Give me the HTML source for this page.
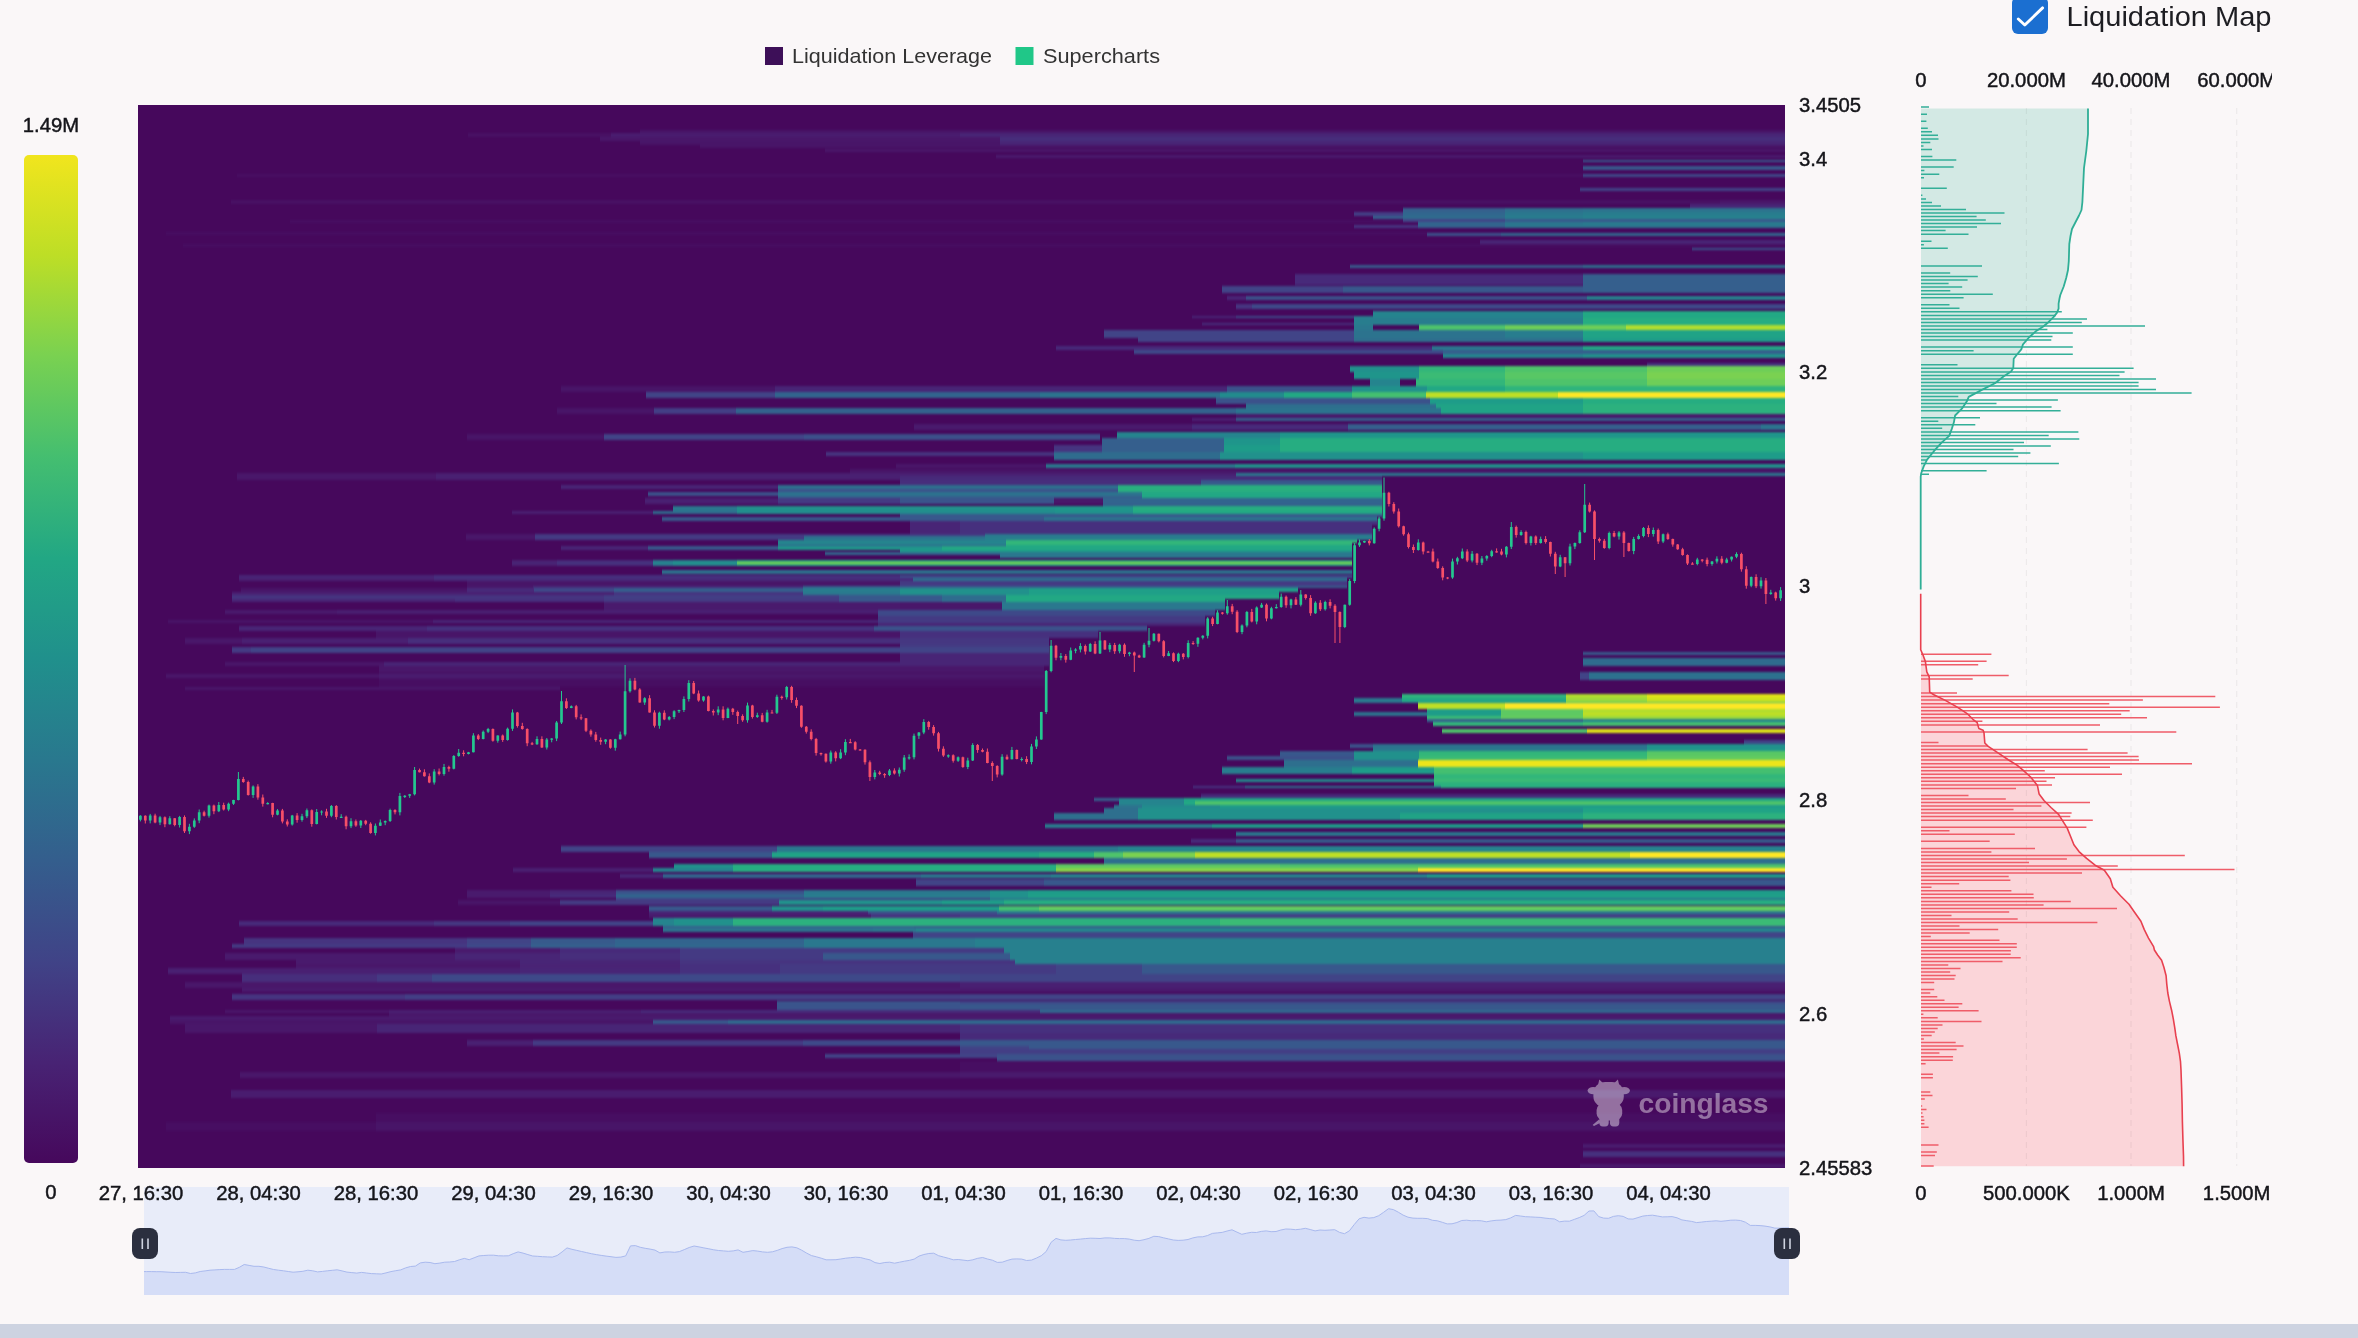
<!DOCTYPE html>
<html lang="en">
<head>
<meta charset="utf-8">
<title>Liquidation Heatmap</title>
<style>
html,body{margin:0;padding:0;background:#faf7f8;}
body{width:2358px;height:1338px;overflow:hidden;position:relative;font-family:"Liberation Sans",sans-serif;}
svg{position:absolute;left:0;top:0;display:block;opacity:0.9999;will-change:transform;}
svg text{font-family:"Liberation Sans",sans-serif;}
.ax text{font-size:20.3px;fill:#15151a;stroke:#15151a;stroke-width:0.45px;}
</style>
</head>
<body>
<svg width="2358" height="1338" viewBox="0 0 2358 1338">
<defs>
<linearGradient id="vbar" x1="0" y1="0" x2="0" y2="1"><stop offset="0.0" stop-color="#f1e51d"/><stop offset="0.1" stop-color="#bdde26"/><stop offset="0.2" stop-color="#79d151"/><stop offset="0.3" stop-color="#44be70"/><stop offset="0.4" stop-color="#22a784"/><stop offset="0.5" stop-color="#20908c"/><stop offset="0.6" stop-color="#29788e"/><stop offset="0.7" stop-color="#345e8d"/><stop offset="0.8" stop-color="#404387"/><stop offset="0.9" stop-color="#482374"/><stop offset="1.0" stop-color="#46085c"/></linearGradient>
<clipPath id="hclip"><rect x="138" y="105" width="1647" height="1063"/></clipPath>
<filter id="hblur" x="130" y="100" width="1665" height="1075" filterUnits="userSpaceOnUse" color-interpolation-filters="sRGB"><feGaussianBlur stdDeviation="0.7 1.0"/></filter>
<clipPath id="pclip"><rect x="1900" y="60" width="372" height="1160"/></clipPath>
</defs>
<rect x="0" y="0" width="2358" height="1338" fill="#faf7f8"/>
<!-- legend -->
<rect x="765" y="47" width="18" height="18" fill="#3d0f58"/>
<text x="792" y="63" font-size="21" fill="#333" textLength="200" lengthAdjust="spacingAndGlyphs">Liquidation Leverage</text>
<rect x="1015.500" y="47" width="18" height="18" fill="#20c788"/>
<text x="1043" y="63" font-size="21" fill="#333" textLength="117" lengthAdjust="spacingAndGlyphs">Supercharts</text>
<!-- colour bar -->
<rect x="24" y="155" width="54" height="1008" rx="5" ry="5" fill="url(#vbar)"/>
<g class="ax"><text x="51" y="132" text-anchor="middle">1.49M</text><text x="51" y="1199" text-anchor="middle">0</text></g>
<!-- slider -->
<rect x="144" y="1187" width="1645" height="108" fill="#e8ecf9"/>
<path d="M144 1295 L144 1271.6 L146.4 1271.6 L151.3 1271.6 L156.2 1271.7 L161.1 1271.7 L166 1272 L170.9 1272.3 L175.8 1272.5 L180.7 1272.4 L185.6 1272.3 L190.5 1273.5 L195.3 1272.9 L200.2 1271.5 L205.1 1270.9 L210 1270.2 L214.9 1269.9 L219.8 1269.6 L224.7 1269.4 L229.6 1269.4 L234.5 1269.4 L239.4 1267.3 L244.2 1264.5 L249.1 1265.4 L254 1266.3 L258.9 1266.3 L263.8 1267 L268.7 1268.3 L273.6 1269.5 L278.5 1270.2 L283.4 1270.8 L288.3 1271.5 L293.1 1272.2 L298 1271.8 L302.9 1271.3 L307.8 1270.2 L312.7 1270.8 L317.6 1271.9 L322.5 1271.4 L327.4 1270.8 L332.3 1270.3 L337.2 1269.8 L342 1270.9 L346.9 1272.1 L351.8 1272.6 L356.7 1273.1 L361.6 1272.4 L366.5 1273 L371.4 1273.6 L376.3 1273.8 L381.2 1274 L386 1272.9 L390.9 1271.6 L395.8 1270.7 L400.7 1269.9 L405.6 1267.9 L410.5 1266.5 L415.4 1266.1 L420.3 1262.9 L425.2 1262.2 L430.1 1262.5 L434.9 1263.7 L439.8 1263.1 L444.7 1262.2 L449.6 1262 L454.5 1261.5 L459.4 1259.8 L464.3 1258.4 L469.2 1259.7 L474.1 1257.8 L479 1255.9 L483.8 1255.5 L488.7 1255.2 L493.6 1255.2 L498.5 1255.8 L503.4 1255.9 L508.3 1255.8 L513.2 1253.7 L518.1 1251.9 L523 1253.1 L527.9 1254.6 L532.7 1256 L537.6 1256.3 L542.5 1256.7 L547.4 1256.9 L552.3 1257.1 L557.2 1255.5 L562.1 1251.9 L567 1247.9 L571.9 1249.3 L576.8 1250.4 L581.6 1251.5 L586.5 1252.6 L591.4 1253.7 L596.3 1254.6 L601.2 1255.4 L606.1 1256.1 L611 1256.7 L615.9 1257.4 L620.8 1257.1 L625.7 1255.9 L630.5 1245.9 L635.4 1245.6 L640.3 1247.3 L645.2 1248.3 L650.1 1249.1 L655 1250.1 L659.9 1252.9 L664.8 1252 L669.7 1251.9 L674.6 1252.3 L679.4 1251.6 L684.3 1249.6 L689.2 1247.5 L694.1 1246 L699 1246.9 L703.9 1247.9 L708.8 1248.8 L713.7 1249.8 L718.6 1250.5 L723.5 1250.9 L728.3 1251.3 L733.2 1250.9 L738.1 1249.9 L743 1252.3 L747.9 1251.5 L752.8 1250.6 L757.7 1251.1 L762.6 1251.9 L767.5 1252.3 L772.4 1251.8 L777.2 1250.4 L782.1 1248.6 L787 1247.3 L791.9 1246.9 L796.8 1247.8 L801.7 1250.2 L806.6 1253.1 L811.5 1255.6 L816.4 1256.8 L821.2 1258.2 L826.1 1259.8 L831 1259.8 L835.9 1259.7 L840.8 1259 L845.7 1258.2 L850.6 1257.7 L855.5 1257.2 L860.4 1257.5 L865.3 1258.8 L870.1 1259.9 L875 1262.6 L879.9 1263.5 L884.8 1262.5 L889.7 1262.2 L894.6 1263.2 L899.5 1262.2 L904.4 1261.2 L909.3 1260.4 L914.2 1259.1 L919 1256.1 L923.9 1254.5 L928.8 1253.5 L933.7 1253.2 L938.6 1255.7 L943.5 1257 L948.4 1258.3 L953.3 1259.8 L958.2 1259.5 L963.1 1260.1 L967.9 1260.7 L972.8 1259.8 L977.7 1258.3 L982.6 1257.5 L987.5 1259 L992.4 1260.2 L997.3 1262.4 L1002.2 1262.2 L1007.1 1260.5 L1012 1259.1 L1016.8 1258.9 L1021.7 1259.1 L1026.6 1260.5 L1031.5 1260.1 L1036.4 1258.1 L1041.3 1255.7 L1046.2 1251.5 L1051.1 1242.3 L1056 1238.4 L1060.9 1239.9 L1065.7 1240.3 L1070.6 1240 L1075.5 1239.5 L1080.4 1239.1 L1085.3 1238.6 L1090.2 1238.2 L1095.1 1238.3 L1100 1238.5 L1104.9 1237.9 L1109.8 1237.9 L1114.6 1238.4 L1119.5 1238.6 L1124.4 1238.6 L1129.3 1239.1 L1134.2 1240.2 L1139.1 1240.7 L1144 1239.7 L1148.9 1238.4 L1153.8 1236.3 L1158.7 1236.6 L1163.5 1237.8 L1168.4 1238.9 L1173.3 1240 L1178.2 1240.4 L1183.1 1240.2 L1188 1239.5 L1192.9 1237.9 L1197.8 1236.9 L1202.7 1236.8 L1207.6 1235.5 L1212.4 1233.4 L1217.3 1232.9 L1222.2 1232.4 L1227.1 1231 L1232 1229.8 L1236.9 1232.1 L1241.8 1234.3 L1246.7 1233.2 L1251.6 1232.3 L1256.4 1232.5 L1261.3 1231.4 L1266.2 1230.9 L1271.1 1231.7 L1276 1231.5 L1280.9 1230 L1285.8 1229 L1290.7 1229.2 L1295.6 1229.7 L1300.5 1229.2 L1305.3 1228.3 L1310.2 1229.5 L1315.1 1230.9 L1320 1230 L1324.9 1230.3 L1329.8 1230 L1334.7 1229.7 L1339.6 1232.4 L1344.5 1233.7 L1349.4 1230.8 L1354.2 1224.6 L1359.1 1218.8 L1364 1217.3 L1368.9 1218.1 L1373.8 1217.6 L1378.7 1215.7 L1383.6 1212.3 L1388.5 1208.7 L1393.4 1209.6 L1398.3 1212.2 L1403.1 1215.1 L1408 1217.2 L1412.9 1218.1 L1417.8 1218.3 L1422.7 1218.3 L1427.6 1218.6 L1432.5 1220.3 L1437.4 1220.8 L1442.3 1222.3 L1447.2 1223.9 L1452 1223.8 L1456.9 1222.5 L1461.8 1220.5 L1466.7 1220.2 L1471.6 1220.8 L1476.5 1220.6 L1481.4 1220.8 L1486.3 1221.8 L1491.2 1220.9 L1496.1 1220.3 L1500.9 1220.1 L1505.8 1219.6 L1510.7 1217.9 L1515.6 1215.4 L1520.5 1216 L1525.4 1216.7 L1530.3 1216.9 L1535.2 1217.2 L1540.1 1217.4 L1545 1218.1 L1549.8 1218.6 L1554.7 1219 L1559.6 1221.8 L1564.5 1221.1 L1569.4 1221.2 L1574.3 1219.4 L1579.2 1217.6 L1584.1 1215.4 L1589 1211 L1593.9 1210.9 L1598.7 1216.6 L1603.6 1218.1 L1608.5 1218.3 L1613.4 1216.4 L1618.3 1215.7 L1623.2 1216.4 L1628.1 1218.9 L1633 1219.1 L1637.9 1217.6 L1642.8 1216.1 L1647.6 1215.5 L1652.5 1215.2 L1657.4 1216 L1662.3 1216.9 L1667.2 1216.8 L1672.1 1216.6 L1677 1217.8 L1681.9 1219.9 L1686.8 1220.7 L1691.6 1221.4 L1696.5 1222.6 L1701.4 1222.1 L1706.3 1221.5 L1711.2 1221.2 L1716.1 1220.8 L1721 1221.3 L1725.9 1220.8 L1730.8 1220.2 L1735.7 1220.1 L1740.5 1220.5 L1745.4 1222.2 L1750.3 1225.4 L1755.2 1225.4 L1760.1 1225.6 L1765 1226.1 L1769.9 1226.9 L1774.8 1228.1 L1779.7 1228.2 L1784.6 1227.9 L1789 1227.9 L1789 1295 Z" fill="#d5ddf7"/>
<path d="M144 1271.6 L146.4 1271.6 L151.3 1271.6 L156.2 1271.7 L161.1 1271.7 L166 1272 L170.9 1272.3 L175.8 1272.5 L180.7 1272.4 L185.6 1272.3 L190.5 1273.5 L195.3 1272.9 L200.2 1271.5 L205.1 1270.9 L210 1270.2 L214.9 1269.9 L219.8 1269.6 L224.7 1269.4 L229.6 1269.4 L234.5 1269.4 L239.4 1267.3 L244.2 1264.5 L249.1 1265.4 L254 1266.3 L258.9 1266.3 L263.8 1267 L268.7 1268.3 L273.6 1269.5 L278.5 1270.2 L283.4 1270.8 L288.3 1271.5 L293.1 1272.2 L298 1271.8 L302.9 1271.3 L307.8 1270.2 L312.7 1270.8 L317.6 1271.9 L322.5 1271.4 L327.4 1270.8 L332.3 1270.3 L337.2 1269.8 L342 1270.9 L346.9 1272.1 L351.8 1272.6 L356.7 1273.1 L361.6 1272.4 L366.5 1273 L371.4 1273.6 L376.3 1273.8 L381.2 1274 L386 1272.9 L390.9 1271.6 L395.8 1270.7 L400.7 1269.9 L405.6 1267.9 L410.5 1266.5 L415.4 1266.1 L420.3 1262.9 L425.2 1262.2 L430.1 1262.5 L434.9 1263.7 L439.8 1263.1 L444.7 1262.2 L449.6 1262 L454.5 1261.5 L459.4 1259.8 L464.3 1258.4 L469.2 1259.7 L474.1 1257.8 L479 1255.9 L483.8 1255.5 L488.7 1255.2 L493.6 1255.2 L498.5 1255.8 L503.4 1255.9 L508.3 1255.8 L513.2 1253.7 L518.1 1251.9 L523 1253.1 L527.9 1254.6 L532.7 1256 L537.6 1256.3 L542.5 1256.7 L547.4 1256.9 L552.3 1257.1 L557.2 1255.5 L562.1 1251.9 L567 1247.9 L571.9 1249.3 L576.8 1250.4 L581.6 1251.5 L586.5 1252.6 L591.4 1253.7 L596.3 1254.6 L601.2 1255.4 L606.1 1256.1 L611 1256.7 L615.9 1257.4 L620.8 1257.1 L625.7 1255.9 L630.5 1245.9 L635.4 1245.6 L640.3 1247.3 L645.2 1248.3 L650.1 1249.1 L655 1250.1 L659.9 1252.9 L664.8 1252 L669.7 1251.9 L674.6 1252.3 L679.4 1251.6 L684.3 1249.6 L689.2 1247.5 L694.1 1246 L699 1246.9 L703.9 1247.9 L708.8 1248.8 L713.7 1249.8 L718.6 1250.5 L723.5 1250.9 L728.3 1251.3 L733.2 1250.9 L738.1 1249.9 L743 1252.3 L747.9 1251.5 L752.8 1250.6 L757.7 1251.1 L762.6 1251.9 L767.5 1252.3 L772.4 1251.8 L777.2 1250.4 L782.1 1248.6 L787 1247.3 L791.9 1246.9 L796.8 1247.8 L801.7 1250.2 L806.6 1253.1 L811.5 1255.6 L816.4 1256.8 L821.2 1258.2 L826.1 1259.8 L831 1259.8 L835.9 1259.7 L840.8 1259 L845.7 1258.2 L850.6 1257.7 L855.5 1257.2 L860.4 1257.5 L865.3 1258.8 L870.1 1259.9 L875 1262.6 L879.9 1263.5 L884.8 1262.5 L889.7 1262.2 L894.6 1263.2 L899.5 1262.2 L904.4 1261.2 L909.3 1260.4 L914.2 1259.1 L919 1256.1 L923.9 1254.5 L928.8 1253.5 L933.7 1253.2 L938.6 1255.7 L943.5 1257 L948.4 1258.3 L953.3 1259.8 L958.2 1259.5 L963.1 1260.1 L967.9 1260.7 L972.8 1259.8 L977.7 1258.3 L982.6 1257.5 L987.5 1259 L992.4 1260.2 L997.3 1262.4 L1002.2 1262.2 L1007.1 1260.5 L1012 1259.1 L1016.8 1258.9 L1021.7 1259.1 L1026.6 1260.5 L1031.5 1260.1 L1036.4 1258.1 L1041.3 1255.7 L1046.2 1251.5 L1051.1 1242.3 L1056 1238.4 L1060.9 1239.9 L1065.7 1240.3 L1070.6 1240 L1075.5 1239.5 L1080.4 1239.1 L1085.3 1238.6 L1090.2 1238.2 L1095.1 1238.3 L1100 1238.5 L1104.9 1237.9 L1109.8 1237.9 L1114.6 1238.4 L1119.5 1238.6 L1124.4 1238.6 L1129.3 1239.1 L1134.2 1240.2 L1139.1 1240.7 L1144 1239.7 L1148.9 1238.4 L1153.8 1236.3 L1158.7 1236.6 L1163.5 1237.8 L1168.4 1238.9 L1173.3 1240 L1178.2 1240.4 L1183.1 1240.2 L1188 1239.5 L1192.9 1237.9 L1197.8 1236.9 L1202.7 1236.8 L1207.6 1235.5 L1212.4 1233.4 L1217.3 1232.9 L1222.2 1232.4 L1227.1 1231 L1232 1229.8 L1236.9 1232.1 L1241.8 1234.3 L1246.7 1233.2 L1251.6 1232.3 L1256.4 1232.5 L1261.3 1231.4 L1266.2 1230.9 L1271.1 1231.7 L1276 1231.5 L1280.9 1230 L1285.8 1229 L1290.7 1229.2 L1295.6 1229.7 L1300.5 1229.2 L1305.3 1228.3 L1310.2 1229.5 L1315.1 1230.9 L1320 1230 L1324.9 1230.3 L1329.8 1230 L1334.7 1229.7 L1339.6 1232.4 L1344.5 1233.7 L1349.4 1230.8 L1354.2 1224.6 L1359.1 1218.8 L1364 1217.3 L1368.9 1218.1 L1373.8 1217.6 L1378.7 1215.7 L1383.6 1212.3 L1388.5 1208.7 L1393.4 1209.6 L1398.3 1212.2 L1403.1 1215.1 L1408 1217.2 L1412.9 1218.1 L1417.8 1218.3 L1422.7 1218.3 L1427.6 1218.6 L1432.5 1220.3 L1437.4 1220.8 L1442.3 1222.3 L1447.2 1223.9 L1452 1223.8 L1456.9 1222.5 L1461.8 1220.5 L1466.7 1220.2 L1471.6 1220.8 L1476.5 1220.6 L1481.4 1220.8 L1486.3 1221.8 L1491.2 1220.9 L1496.1 1220.3 L1500.9 1220.1 L1505.8 1219.6 L1510.7 1217.9 L1515.6 1215.4 L1520.5 1216 L1525.4 1216.7 L1530.3 1216.9 L1535.2 1217.2 L1540.1 1217.4 L1545 1218.1 L1549.8 1218.6 L1554.7 1219 L1559.6 1221.8 L1564.5 1221.1 L1569.4 1221.2 L1574.3 1219.4 L1579.2 1217.6 L1584.1 1215.4 L1589 1211 L1593.9 1210.9 L1598.7 1216.6 L1603.6 1218.1 L1608.5 1218.3 L1613.4 1216.4 L1618.3 1215.7 L1623.2 1216.4 L1628.1 1218.9 L1633 1219.1 L1637.9 1217.6 L1642.8 1216.1 L1647.6 1215.5 L1652.5 1215.2 L1657.4 1216 L1662.3 1216.9 L1667.2 1216.8 L1672.1 1216.6 L1677 1217.8 L1681.9 1219.9 L1686.8 1220.7 L1691.6 1221.4 L1696.5 1222.6 L1701.4 1222.1 L1706.3 1221.5 L1711.2 1221.2 L1716.1 1220.8 L1721 1221.3 L1725.9 1220.8 L1730.8 1220.2 L1735.7 1220.1 L1740.5 1220.5 L1745.4 1222.2 L1750.3 1225.4 L1755.2 1225.4 L1760.1 1225.6 L1765 1226.1 L1769.9 1226.9 L1774.8 1228.1 L1779.7 1228.2 L1784.6 1227.9 L1789 1227.9" fill="none" stroke="#a9b9ee" stroke-width="1"/>
<!-- heat map -->
<rect x="138" y="105" width="1647" height="1063" fill="#46085c"/>
<g clip-path="url(#hclip)"><g filter="url(#hblur)">
<rect x="640" y="130" width="1145" height="3" fill="#481568"/>
<rect x="468" y="133" width="143" height="4" fill="#481164"/>
<rect x="611" y="133" width="349" height="4" fill="#491c6f"/>
<rect x="960" y="133" width="825" height="4" fill="#482576"/>
<rect x="600" y="137" width="400" height="4" fill="#49176a"/>
<rect x="1000" y="137" width="785" height="4" fill="#472e7c"/>
<rect x="640" y="141" width="360" height="4" fill="#481568"/>
<rect x="1000" y="141" width="785" height="4" fill="#482576"/>
<rect x="700" y="145" width="1085" height="3" fill="#481568"/>
<rect x="825" y="149" width="960" height="3" fill="#49176a"/>
<rect x="996" y="155" width="789" height="3" fill="#491a6d"/>
<rect x="1583" y="160" width="202" height="2" fill="#375a8c"/>
<rect x="1583" y="166" width="202" height="4" fill="#38588c"/>
<rect x="237" y="174" width="1346" height="3" fill="#480f63"/>
<rect x="1583" y="174" width="202" height="3" fill="#3e4989"/>
<rect x="1580" y="188" width="205" height="3" fill="#414487"/>
<rect x="231" y="200" width="1489" height="4" fill="#481164"/>
<rect x="1720" y="200" width="65" height="4" fill="#49176a"/>
<rect x="1690" y="204" width="95" height="4" fill="#482576"/>
<rect x="1403" y="208" width="102" height="4" fill="#355f8d"/>
<rect x="1505" y="208" width="78" height="4" fill="#2e6f8e"/>
<rect x="1583" y="208" width="202" height="4" fill="#2c738e"/>
<rect x="1354" y="212" width="49" height="4" fill="#433e85"/>
<rect x="1403" y="212" width="102" height="4" fill="#31678e"/>
<rect x="1505" y="212" width="78" height="4" fill="#2a788e"/>
<rect x="1583" y="212" width="202" height="4" fill="#287d8e"/>
<rect x="1373" y="216" width="30" height="3" fill="#355f8d"/>
<rect x="1403" y="216" width="102" height="3" fill="#2f6c8e"/>
<rect x="1505" y="216" width="78" height="3" fill="#287d8e"/>
<rect x="1583" y="216" width="202" height="3" fill="#26828e"/>
<rect x="1403" y="219" width="102" height="1" fill="#414487"/>
<rect x="1505" y="219" width="280" height="1" fill="#38588c"/>
<rect x="290" y="220" width="1113" height="2" fill="#470e62"/>
<rect x="1403" y="220" width="102" height="2" fill="#414487"/>
<rect x="1505" y="220" width="280" height="2" fill="#38588c"/>
<rect x="290" y="222" width="1128" height="1" fill="#470e62"/>
<rect x="1418" y="222" width="87" height="1" fill="#31678e"/>
<rect x="1505" y="222" width="78" height="1" fill="#2a788e"/>
<rect x="1583" y="222" width="202" height="1" fill="#287d8e"/>
<rect x="1418" y="223" width="87" height="2" fill="#31678e"/>
<rect x="1505" y="223" width="78" height="2" fill="#2a788e"/>
<rect x="1583" y="223" width="202" height="2" fill="#287d8e"/>
<rect x="1354" y="225" width="64" height="3" fill="#463480"/>
<rect x="1418" y="225" width="87" height="3" fill="#355f8d"/>
<rect x="1505" y="225" width="280" height="3" fill="#2c738e"/>
<rect x="166" y="232" width="1619" height="1" fill="#470e62"/>
<rect x="166" y="233" width="1261" height="2" fill="#470e62"/>
<rect x="1427" y="233" width="74" height="2" fill="#3b528b"/>
<rect x="1501" y="233" width="284" height="2" fill="#31678e"/>
<rect x="1427" y="235" width="74" height="1" fill="#3b528b"/>
<rect x="1501" y="235" width="284" height="1" fill="#31678e"/>
<rect x="1480" y="240" width="305" height="4" fill="#482576"/>
<rect x="183" y="244" width="1602" height="3" fill="#470e62"/>
<rect x="1692" y="248" width="93" height="2" fill="#3b528b"/>
<rect x="1350" y="265" width="233" height="3" fill="#375a8c"/>
<rect x="1583" y="265" width="202" height="3" fill="#2e6f8e"/>
<rect x="1295" y="274" width="288" height="11" fill="#472a7a"/>
<rect x="1583" y="274" width="202" height="11" fill="#355f8d"/>
<rect x="1583" y="285" width="202" height="1" fill="#355f8d"/>
<rect x="1222" y="286" width="121" height="7" fill="#414487"/>
<rect x="1343" y="286" width="240" height="7" fill="#38588c"/>
<rect x="1583" y="286" width="202" height="7" fill="#355f8d"/>
<rect x="1227" y="296" width="19" height="4" fill="#482576"/>
<rect x="1246" y="296" width="341" height="4" fill="#3b528b"/>
<rect x="1587" y="296" width="198" height="4" fill="#25848e"/>
<rect x="1236" y="304" width="16" height="5" fill="#463480"/>
<rect x="1252" y="304" width="533" height="5" fill="#3e4989"/>
<rect x="1373" y="311" width="210" height="5" fill="#25848e"/>
<rect x="1583" y="311" width="202" height="5" fill="#22a884"/>
<rect x="1192" y="316" width="44" height="2" fill="#482576"/>
<rect x="1236" y="316" width="118" height="2" fill="#3e4989"/>
<rect x="1354" y="316" width="19" height="2" fill="#287d8e"/>
<rect x="1373" y="316" width="210" height="2" fill="#25848e"/>
<rect x="1583" y="316" width="202" height="2" fill="#22a884"/>
<rect x="1354" y="318" width="229" height="5" fill="#287d8e"/>
<rect x="1583" y="318" width="202" height="5" fill="#26ad81"/>
<rect x="1202" y="323" width="152" height="2" fill="#472e7c"/>
<rect x="1354" y="323" width="229" height="2" fill="#287d8e"/>
<rect x="1583" y="323" width="202" height="2" fill="#26ad81"/>
<rect x="1354" y="325" width="19" height="5" fill="#2a788e"/>
<rect x="1419" y="325" width="86" height="5" fill="#4ec36b"/>
<rect x="1505" y="325" width="121" height="5" fill="#6ece58"/>
<rect x="1626" y="325" width="159" height="5" fill="#b0dd2f"/>
<rect x="1104" y="330" width="250" height="8" fill="#414487"/>
<rect x="1354" y="330" width="151" height="8" fill="#2c738e"/>
<rect x="1505" y="330" width="78" height="8" fill="#287d8e"/>
<rect x="1583" y="330" width="202" height="8" fill="#20a386"/>
<rect x="1138" y="338" width="216" height="4" fill="#414487"/>
<rect x="1354" y="338" width="229" height="4" fill="#2e6f8e"/>
<rect x="1583" y="338" width="202" height="4" fill="#1e9c89"/>
<rect x="1056" y="346" width="376" height="4" fill="#472a7a"/>
<rect x="1432" y="346" width="151" height="4" fill="#2a788e"/>
<rect x="1583" y="346" width="202" height="4" fill="#22a884"/>
<rect x="1134" y="350" width="309" height="4" fill="#3e4989"/>
<rect x="1443" y="350" width="342" height="4" fill="#355f8d"/>
<rect x="1443" y="354" width="140" height="4" fill="#25848e"/>
<rect x="1583" y="354" width="202" height="4" fill="#21918c"/>
<rect x="1647" y="363" width="138" height="3" fill="#463480"/>
<rect x="1350" y="366" width="69" height="6" fill="#21918c"/>
<rect x="1419" y="366" width="86" height="6" fill="#32b67a"/>
<rect x="1505" y="366" width="142" height="6" fill="#4ec36b"/>
<rect x="1647" y="366" width="138" height="6" fill="#6ece58"/>
<rect x="1354" y="372" width="65" height="7" fill="#1f958b"/>
<rect x="1419" y="372" width="86" height="7" fill="#3bbb75"/>
<rect x="1505" y="372" width="142" height="7" fill="#58c765"/>
<rect x="1647" y="372" width="138" height="7" fill="#7ad151"/>
<rect x="1370" y="379" width="30" height="7" fill="#25848e"/>
<rect x="1416" y="379" width="89" height="7" fill="#32b67a"/>
<rect x="1505" y="379" width="142" height="7" fill="#4ec36b"/>
<rect x="1647" y="379" width="138" height="7" fill="#6ece58"/>
<rect x="561" y="386" width="214" height="6" fill="#481568"/>
<rect x="775" y="386" width="452" height="6" fill="#482576"/>
<rect x="1227" y="386" width="125" height="6" fill="#3b528b"/>
<rect x="1352" y="386" width="75" height="6" fill="#21918c"/>
<rect x="1427" y="386" width="78" height="6" fill="#22a884"/>
<rect x="1505" y="386" width="280" height="6" fill="#2fb47c"/>
<rect x="646" y="392" width="129" height="6" fill="#414487"/>
<rect x="775" y="392" width="265" height="6" fill="#32648e"/>
<rect x="1040" y="392" width="180" height="6" fill="#2c738e"/>
<rect x="1220" y="392" width="64" height="6" fill="#228b8d"/>
<rect x="1284" y="392" width="68" height="6" fill="#22a884"/>
<rect x="1352" y="392" width="74" height="6" fill="#44bf70"/>
<rect x="1426" y="392" width="132" height="6" fill="#bddf26"/>
<rect x="1558" y="392" width="227" height="6" fill="#fde725"/>
<rect x="1216" y="398" width="214" height="6" fill="#3b528b"/>
<rect x="1430" y="398" width="153" height="6" fill="#1e9c89"/>
<rect x="1583" y="398" width="202" height="6" fill="#26ad81"/>
<rect x="1246" y="404" width="190" height="4" fill="#2e6f8e"/>
<rect x="1436" y="404" width="147" height="4" fill="#20a386"/>
<rect x="1583" y="404" width="202" height="4" fill="#2cb17e"/>
<rect x="557" y="408" width="97" height="6" fill="#481568"/>
<rect x="654" y="408" width="82" height="6" fill="#433e85"/>
<rect x="736" y="408" width="500" height="6" fill="#33628d"/>
<rect x="1236" y="408" width="205" height="6" fill="#2c738e"/>
<rect x="1441" y="408" width="142" height="6" fill="#20a386"/>
<rect x="1583" y="408" width="202" height="6" fill="#2cb17e"/>
<rect x="1236" y="414" width="549" height="4" fill="#49176a"/>
<rect x="1192" y="418" width="44" height="3" fill="#492072"/>
<rect x="1236" y="418" width="549" height="3" fill="#355f8d"/>
<rect x="914" y="424" width="278" height="6" fill="#491a6d"/>
<rect x="1192" y="424" width="156" height="6" fill="#472a7a"/>
<rect x="1348" y="424" width="413" height="6" fill="#355f8d"/>
<rect x="1761" y="424" width="24" height="6" fill="#2c738e"/>
<rect x="1117" y="432" width="163" height="2" fill="#25848e"/>
<rect x="1280" y="432" width="505" height="2" fill="#1f958b"/>
<rect x="467" y="434" width="137" height="4" fill="#481568"/>
<rect x="604" y="434" width="200" height="4" fill="#414487"/>
<rect x="804" y="434" width="296" height="4" fill="#3c4f8a"/>
<rect x="1117" y="434" width="163" height="4" fill="#25848e"/>
<rect x="1280" y="434" width="505" height="4" fill="#1f958b"/>
<rect x="467" y="438" width="137" height="2" fill="#481568"/>
<rect x="604" y="438" width="200" height="2" fill="#414487"/>
<rect x="804" y="438" width="296" height="2" fill="#3c4f8a"/>
<rect x="1102" y="438" width="122" height="2" fill="#355f8d"/>
<rect x="1224" y="438" width="56" height="2" fill="#1f958b"/>
<rect x="1280" y="438" width="505" height="2" fill="#26ad81"/>
<rect x="1102" y="440" width="122" height="5" fill="#355f8d"/>
<rect x="1224" y="440" width="56" height="5" fill="#1f958b"/>
<rect x="1280" y="440" width="505" height="5" fill="#26ad81"/>
<rect x="1054" y="445" width="48" height="7" fill="#463480"/>
<rect x="1102" y="445" width="122" height="7" fill="#355f8d"/>
<rect x="1224" y="445" width="56" height="7" fill="#1e9c89"/>
<rect x="1280" y="445" width="505" height="7" fill="#26ad81"/>
<rect x="826" y="452" width="228" height="4" fill="#463480"/>
<rect x="1054" y="452" width="166" height="4" fill="#2f6c8e"/>
<rect x="1220" y="452" width="363" height="4" fill="#21918c"/>
<rect x="1583" y="452" width="202" height="4" fill="#1e9c89"/>
<rect x="1054" y="456" width="166" height="4" fill="#2f6c8e"/>
<rect x="1220" y="456" width="363" height="4" fill="#21918c"/>
<rect x="1583" y="456" width="202" height="4" fill="#1e9c89"/>
<rect x="896" y="464" width="150" height="4" fill="#49176a"/>
<rect x="1046" y="464" width="189" height="4" fill="#2a788e"/>
<rect x="1235" y="464" width="550" height="4" fill="#21918c"/>
<rect x="850" y="469" width="935" height="4" fill="#481568"/>
<rect x="237" y="473" width="199" height="3" fill="#49176a"/>
<rect x="436" y="473" width="800" height="3" fill="#492072"/>
<rect x="1236" y="473" width="549" height="3" fill="#2a788e"/>
<rect x="237" y="476" width="199" height="4" fill="#49176a"/>
<rect x="436" y="476" width="464" height="4" fill="#492072"/>
<rect x="900" y="476" width="482" height="4" fill="#472a7a"/>
<rect x="900" y="480" width="301" height="5" fill="#472e7c"/>
<rect x="1201" y="480" width="181" height="5" fill="#38588c"/>
<rect x="561" y="485" width="217" height="4" fill="#482576"/>
<rect x="778" y="485" width="340" height="4" fill="#2e6f8e"/>
<rect x="1118" y="485" width="264" height="4" fill="#29af7f"/>
<rect x="778" y="489" width="340" height="3" fill="#3b528b"/>
<rect x="1118" y="489" width="264" height="3" fill="#29af7f"/>
<rect x="648" y="492" width="130" height="4" fill="#3b528b"/>
<rect x="778" y="492" width="364" height="4" fill="#2c738e"/>
<rect x="1142" y="492" width="240" height="4" fill="#22a884"/>
<rect x="778" y="496" width="364" height="2" fill="#355f8d"/>
<rect x="1142" y="496" width="240" height="2" fill="#22a884"/>
<rect x="645" y="498" width="133" height="6" fill="#492072"/>
<rect x="778" y="498" width="122" height="6" fill="#443a83"/>
<rect x="900" y="498" width="154" height="6" fill="#3a548c"/>
<rect x="1054" y="498" width="49" height="6" fill="#49176a"/>
<rect x="1103" y="498" width="279" height="6" fill="#32648e"/>
<rect x="1103" y="504" width="279" height="2" fill="#355f8d"/>
<rect x="673" y="506" width="64" height="5" fill="#2a788e"/>
<rect x="737" y="506" width="318" height="5" fill="#21918c"/>
<rect x="1055" y="506" width="78" height="5" fill="#1f958b"/>
<rect x="1133" y="506" width="249" height="5" fill="#26ad81"/>
<rect x="512" y="511" width="141" height="3" fill="#492072"/>
<rect x="653" y="511" width="84" height="3" fill="#2f6c8e"/>
<rect x="737" y="511" width="318" height="3" fill="#228b8d"/>
<rect x="1055" y="511" width="78" height="3" fill="#21918c"/>
<rect x="1133" y="511" width="249" height="3" fill="#22a884"/>
<rect x="900" y="514" width="482" height="3" fill="#38588c"/>
<rect x="662" y="517" width="382" height="4" fill="#38588c"/>
<rect x="1044" y="517" width="333" height="4" fill="#2d718e"/>
<rect x="910" y="521" width="50" height="4" fill="#482576"/>
<rect x="960" y="521" width="417" height="4" fill="#46307e"/>
<rect x="910" y="525" width="50" height="9" fill="#482576"/>
<rect x="960" y="525" width="412" height="9" fill="#46307e"/>
<rect x="466" y="534" width="69" height="2" fill="#49176a"/>
<rect x="535" y="534" width="450" height="2" fill="#443a83"/>
<rect x="985" y="534" width="387" height="2" fill="#2a788e"/>
<rect x="466" y="536" width="69" height="4" fill="#49176a"/>
<rect x="535" y="536" width="269" height="4" fill="#443a83"/>
<rect x="804" y="536" width="181" height="4" fill="#2c738e"/>
<rect x="985" y="536" width="387" height="4" fill="#287d8e"/>
<rect x="778" y="540" width="228" height="3" fill="#25848e"/>
<rect x="1006" y="540" width="351" height="3" fill="#32b67a"/>
<rect x="778" y="543" width="228" height="2" fill="#25848e"/>
<rect x="1006" y="543" width="346" height="2" fill="#32b67a"/>
<rect x="778" y="545" width="228" height="1" fill="#355f8d"/>
<rect x="1006" y="545" width="346" height="1" fill="#22a884"/>
<rect x="561" y="546" width="87" height="4" fill="#482576"/>
<rect x="648" y="546" width="130" height="4" fill="#38588c"/>
<rect x="778" y="546" width="164" height="4" fill="#1f958b"/>
<rect x="942" y="546" width="410" height="4" fill="#22a884"/>
<rect x="900" y="550" width="452" height="2" fill="#1e9c89"/>
<rect x="825" y="552" width="175" height="3" fill="#31678e"/>
<rect x="1000" y="552" width="352" height="3" fill="#2a788e"/>
<rect x="1000" y="555" width="352" height="3" fill="#2a788e"/>
<rect x="512" y="560" width="45" height="2" fill="#492072"/>
<rect x="557" y="560" width="96" height="2" fill="#472a7a"/>
<rect x="653" y="560" width="20" height="2" fill="#2a788e"/>
<rect x="673" y="560" width="64" height="2" fill="#25848e"/>
<rect x="737" y="560" width="615" height="2" fill="#22a884"/>
<rect x="512" y="562" width="45" height="2" fill="#482576"/>
<rect x="557" y="562" width="96" height="2" fill="#463480"/>
<rect x="653" y="562" width="20" height="2" fill="#25848e"/>
<rect x="673" y="562" width="64" height="2" fill="#21918c"/>
<rect x="737" y="562" width="615" height="2" fill="#86d549"/>
<rect x="512" y="564" width="45" height="2" fill="#492072"/>
<rect x="557" y="564" width="96" height="2" fill="#472a7a"/>
<rect x="653" y="564" width="20" height="2" fill="#2a788e"/>
<rect x="673" y="564" width="64" height="2" fill="#25848e"/>
<rect x="737" y="564" width="615" height="2" fill="#22a884"/>
<rect x="662" y="570" width="690" height="4" fill="#2d718e"/>
<rect x="239" y="575" width="195" height="3" fill="#482576"/>
<rect x="434" y="575" width="466" height="3" fill="#46307e"/>
<rect x="900" y="575" width="452" height="3" fill="#3e4989"/>
<rect x="239" y="578" width="195" height="3" fill="#492072"/>
<rect x="434" y="578" width="479" height="3" fill="#472a7a"/>
<rect x="913" y="578" width="434" height="3" fill="#2e6f8e"/>
<rect x="467" y="581" width="433" height="5" fill="#481568"/>
<rect x="900" y="581" width="447" height="5" fill="#443a83"/>
<rect x="467" y="586" width="66" height="2" fill="#49176a"/>
<rect x="533" y="586" width="270" height="2" fill="#472a7a"/>
<rect x="803" y="586" width="544" height="2" fill="#355f8d"/>
<rect x="241" y="588" width="226" height="4" fill="#481568"/>
<rect x="467" y="588" width="67" height="4" fill="#472a7a"/>
<rect x="534" y="588" width="80" height="4" fill="#3e4989"/>
<rect x="614" y="588" width="189" height="4" fill="#355f8d"/>
<rect x="803" y="588" width="97" height="4" fill="#287d8e"/>
<rect x="900" y="588" width="129" height="4" fill="#21918c"/>
<rect x="1029" y="588" width="269" height="4" fill="#1f9f88"/>
<rect x="232" y="592" width="382" height="3" fill="#492072"/>
<rect x="614" y="592" width="189" height="3" fill="#463480"/>
<rect x="803" y="592" width="97" height="3" fill="#2a788e"/>
<rect x="900" y="592" width="129" height="3" fill="#21918c"/>
<rect x="1029" y="592" width="250" height="3" fill="#1f9f88"/>
<rect x="232" y="595" width="372" height="4" fill="#463480"/>
<rect x="604" y="595" width="235" height="4" fill="#433e85"/>
<rect x="839" y="595" width="103" height="4" fill="#38588c"/>
<rect x="942" y="595" width="64" height="4" fill="#2f6c8e"/>
<rect x="1006" y="595" width="273" height="4" fill="#22a884"/>
<rect x="232" y="599" width="223" height="3" fill="#482576"/>
<rect x="455" y="599" width="149" height="3" fill="#46307e"/>
<rect x="604" y="599" width="235" height="3" fill="#443a83"/>
<rect x="839" y="599" width="103" height="3" fill="#38588c"/>
<rect x="942" y="599" width="64" height="3" fill="#2f6c8e"/>
<rect x="1006" y="599" width="219" height="3" fill="#22a884"/>
<rect x="604" y="602" width="296" height="8" fill="#491a6d"/>
<rect x="900" y="602" width="102" height="8" fill="#49176a"/>
<rect x="1002" y="602" width="223" height="8" fill="#2a788e"/>
<rect x="225" y="610" width="112" height="4" fill="#491a6d"/>
<rect x="337" y="610" width="541" height="4" fill="#492072"/>
<rect x="878" y="610" width="337" height="4" fill="#3e4989"/>
<rect x="878" y="614" width="337" height="2" fill="#3e4989"/>
<rect x="878" y="616" width="327" height="4" fill="#443a83"/>
<rect x="168" y="620" width="265" height="3" fill="#481568"/>
<rect x="433" y="620" width="445" height="3" fill="#482576"/>
<rect x="878" y="620" width="327" height="3" fill="#443a83"/>
<rect x="878" y="623" width="327" height="3" fill="#482576"/>
<rect x="239" y="626" width="188" height="5" fill="#482576"/>
<rect x="427" y="626" width="447" height="5" fill="#46307e"/>
<rect x="874" y="626" width="273" height="5" fill="#3b528b"/>
<rect x="376" y="631" width="524" height="7" fill="#481568"/>
<rect x="900" y="631" width="198" height="7" fill="#46307e"/>
<rect x="185" y="638" width="57" height="6" fill="#49176a"/>
<rect x="242" y="638" width="166" height="6" fill="#492072"/>
<rect x="408" y="638" width="492" height="6" fill="#472e7c"/>
<rect x="900" y="638" width="149" height="6" fill="#453781"/>
<rect x="900" y="644" width="149" height="3" fill="#443a83"/>
<rect x="232" y="647" width="19" height="5" fill="#443a83"/>
<rect x="251" y="647" width="798" height="5" fill="#414487"/>
<rect x="232" y="652" width="19" height="1" fill="#443a83"/>
<rect x="251" y="652" width="798" height="1" fill="#414487"/>
<rect x="1583" y="652" width="202" height="1" fill="#375a8c"/>
<rect x="900" y="653" width="149" height="2" fill="#482576"/>
<rect x="1583" y="653" width="202" height="2" fill="#375a8c"/>
<rect x="900" y="655" width="149" height="3" fill="#482576"/>
<rect x="900" y="658" width="149" height="4" fill="#482576"/>
<rect x="1583" y="658" width="202" height="4" fill="#2f6c8e"/>
<rect x="225" y="662" width="159" height="4" fill="#49176a"/>
<rect x="384" y="662" width="665" height="4" fill="#482576"/>
<rect x="1583" y="662" width="202" height="4" fill="#2f6c8e"/>
<rect x="379" y="666" width="665" height="6" fill="#49176a"/>
<rect x="379" y="672" width="665" height="2" fill="#481265"/>
<rect x="1580" y="672" width="9" height="2" fill="#414487"/>
<rect x="1589" y="672" width="196" height="2" fill="#2d718e"/>
<rect x="166" y="674" width="213" height="4" fill="#49176a"/>
<rect x="379" y="674" width="247" height="4" fill="#491c6f"/>
<rect x="626" y="674" width="418" height="4" fill="#49176a"/>
<rect x="1580" y="674" width="9" height="4" fill="#414487"/>
<rect x="1589" y="674" width="196" height="4" fill="#2d718e"/>
<rect x="379" y="678" width="665" height="2" fill="#481265"/>
<rect x="1580" y="678" width="9" height="2" fill="#414487"/>
<rect x="1589" y="678" width="196" height="2" fill="#2d718e"/>
<rect x="379" y="680" width="665" height="7" fill="#470e62"/>
<rect x="185" y="687" width="375" height="3" fill="#49176a"/>
<rect x="1402" y="694" width="164" height="4" fill="#2fb47c"/>
<rect x="1566" y="694" width="81" height="4" fill="#b0dd2f"/>
<rect x="1647" y="694" width="138" height="4" fill="#dfe318"/>
<rect x="1354" y="698" width="48" height="4" fill="#2a788e"/>
<rect x="1402" y="698" width="164" height="4" fill="#22a884"/>
<rect x="1566" y="698" width="81" height="4" fill="#9bd93c"/>
<rect x="1647" y="698" width="138" height="4" fill="#cae11f"/>
<rect x="1354" y="702" width="64" height="1" fill="#2c738e"/>
<rect x="1418" y="702" width="148" height="1" fill="#21918c"/>
<rect x="1566" y="702" width="219" height="1" fill="#44bf70"/>
<rect x="1418" y="703" width="87" height="6" fill="#bddf26"/>
<rect x="1505" y="703" width="280" height="6" fill="#fde725"/>
<rect x="1427" y="709" width="74" height="3" fill="#1e9c89"/>
<rect x="1501" y="709" width="82" height="3" fill="#5ec962"/>
<rect x="1583" y="709" width="202" height="3" fill="#b0dd2f"/>
<rect x="1354" y="712" width="73" height="4" fill="#2c738e"/>
<rect x="1427" y="712" width="74" height="4" fill="#1e9c89"/>
<rect x="1501" y="712" width="82" height="4" fill="#5ec962"/>
<rect x="1583" y="712" width="202" height="4" fill="#bddf26"/>
<rect x="1427" y="716" width="74" height="3" fill="#3bbb75"/>
<rect x="1501" y="716" width="82" height="3" fill="#63cb5f"/>
<rect x="1583" y="716" width="202" height="3" fill="#9bd93c"/>
<rect x="1427" y="719" width="156" height="3" fill="#355f8d"/>
<rect x="1583" y="719" width="202" height="3" fill="#25848e"/>
<rect x="1433" y="722" width="150" height="4" fill="#32b67a"/>
<rect x="1583" y="722" width="202" height="4" fill="#44bf70"/>
<rect x="1442" y="729" width="145" height="4" fill="#4ec36b"/>
<rect x="1587" y="729" width="198" height="4" fill="#dfe318"/>
<rect x="1744" y="740" width="41" height="4" fill="#414487"/>
<rect x="1350" y="744" width="23" height="4" fill="#3b528b"/>
<rect x="1373" y="744" width="274" height="4" fill="#2c738e"/>
<rect x="1647" y="744" width="138" height="4" fill="#21918c"/>
<rect x="1373" y="748" width="274" height="3" fill="#2a788e"/>
<rect x="1647" y="748" width="138" height="3" fill="#1f958b"/>
<rect x="1280" y="751" width="74" height="5" fill="#38588c"/>
<rect x="1354" y="751" width="65" height="5" fill="#21918c"/>
<rect x="1419" y="751" width="228" height="5" fill="#32b67a"/>
<rect x="1647" y="751" width="138" height="5" fill="#58c765"/>
<rect x="1227" y="756" width="127" height="4" fill="#3b528b"/>
<rect x="1354" y="756" width="65" height="4" fill="#21918c"/>
<rect x="1419" y="756" width="228" height="4" fill="#3bbb75"/>
<rect x="1647" y="756" width="138" height="4" fill="#63cb5f"/>
<rect x="1284" y="760" width="134" height="7" fill="#2e6f8e"/>
<rect x="1418" y="760" width="367" height="7" fill="#ece51b"/>
<rect x="1222" y="767" width="130" height="7" fill="#287d8e"/>
<rect x="1352" y="767" width="82" height="7" fill="#1e9c89"/>
<rect x="1434" y="767" width="351" height="7" fill="#44bf70"/>
<rect x="1434" y="774" width="351" height="5" fill="#32b67a"/>
<rect x="1236" y="779" width="198" height="3" fill="#228b8d"/>
<rect x="1434" y="779" width="351" height="3" fill="#3bbb75"/>
<rect x="1434" y="782" width="351" height="4" fill="#2cb17e"/>
<rect x="1193" y="786" width="52" height="2" fill="#463480"/>
<rect x="1245" y="786" width="196" height="2" fill="#2e6f8e"/>
<rect x="1441" y="786" width="344" height="2" fill="#26ad81"/>
<rect x="1201" y="794" width="584" height="4" fill="#472a7a"/>
<rect x="1094" y="798" width="25" height="3" fill="#355f8d"/>
<rect x="1119" y="798" width="65" height="3" fill="#25848e"/>
<rect x="1184" y="798" width="601" height="3" fill="#20a386"/>
<rect x="1119" y="801" width="65" height="4" fill="#25848e"/>
<rect x="1184" y="801" width="11" height="4" fill="#22a884"/>
<rect x="1195" y="801" width="590" height="4" fill="#4ec36b"/>
<rect x="1114" y="805" width="28" height="3" fill="#2c738e"/>
<rect x="1142" y="805" width="78" height="3" fill="#228b8d"/>
<rect x="1220" y="805" width="565" height="3" fill="#1e9c89"/>
<rect x="1104" y="808" width="34" height="5" fill="#2e6f8e"/>
<rect x="1138" y="808" width="445" height="5" fill="#21918c"/>
<rect x="1583" y="808" width="202" height="5" fill="#20a386"/>
<rect x="1054" y="813" width="84" height="7" fill="#2e6f8e"/>
<rect x="1138" y="813" width="262" height="7" fill="#21918c"/>
<rect x="1400" y="813" width="183" height="7" fill="#20a386"/>
<rect x="1583" y="813" width="202" height="7" fill="#2cb17e"/>
<rect x="1045" y="824" width="167" height="4" fill="#287d8e"/>
<rect x="1212" y="824" width="371" height="4" fill="#1e9c89"/>
<rect x="1583" y="824" width="202" height="4" fill="#6ece58"/>
<rect x="1236" y="832" width="549" height="4" fill="#2a788e"/>
<rect x="1191" y="839" width="45" height="4" fill="#472a7a"/>
<rect x="1236" y="839" width="549" height="4" fill="#375a8c"/>
<rect x="561" y="846" width="216" height="6" fill="#414487"/>
<rect x="777" y="846" width="341" height="6" fill="#2a788e"/>
<rect x="1118" y="846" width="667" height="6" fill="#25848e"/>
<rect x="649" y="852" width="123" height="6" fill="#38588c"/>
<rect x="772" y="852" width="267" height="6" fill="#20a386"/>
<rect x="1039" y="852" width="55" height="6" fill="#26ad81"/>
<rect x="1094" y="852" width="29" height="6" fill="#4ec36b"/>
<rect x="1123" y="852" width="72" height="6" fill="#7ad151"/>
<rect x="1195" y="852" width="435" height="6" fill="#bddf26"/>
<rect x="1630" y="852" width="155" height="6" fill="#fde725"/>
<rect x="1104" y="858" width="681" height="6" fill="#2e6f8e"/>
<rect x="674" y="864" width="59" height="4" fill="#21918c"/>
<rect x="733" y="864" width="323" height="4" fill="#26ad81"/>
<rect x="1056" y="864" width="224" height="4" fill="#5ec962"/>
<rect x="1280" y="864" width="505" height="4" fill="#4ec36b"/>
<rect x="513" y="868" width="140" height="4" fill="#492072"/>
<rect x="653" y="868" width="80" height="4" fill="#25848e"/>
<rect x="733" y="868" width="323" height="4" fill="#26ad81"/>
<rect x="1056" y="868" width="362" height="4" fill="#86d549"/>
<rect x="1418" y="868" width="367" height="4" fill="#fde725"/>
<rect x="620" y="874" width="43" height="4" fill="#482576"/>
<rect x="663" y="874" width="258" height="4" fill="#31678e"/>
<rect x="921" y="874" width="130" height="4" fill="#2a788e"/>
<rect x="1051" y="874" width="376" height="4" fill="#25848e"/>
<rect x="1427" y="874" width="358" height="4" fill="#1e9c89"/>
<rect x="916" y="879" width="128" height="7" fill="#414487"/>
<rect x="1044" y="879" width="741" height="7" fill="#38588c"/>
<rect x="467" y="890" width="83" height="4" fill="#491a6d"/>
<rect x="550" y="890" width="66" height="4" fill="#482576"/>
<rect x="616" y="890" width="188" height="4" fill="#3b528b"/>
<rect x="804" y="890" width="186" height="4" fill="#2a788e"/>
<rect x="990" y="890" width="38" height="4" fill="#21918c"/>
<rect x="1028" y="890" width="757" height="4" fill="#1e9c89"/>
<rect x="467" y="894" width="83" height="4" fill="#491a6d"/>
<rect x="550" y="894" width="66" height="4" fill="#472a7a"/>
<rect x="616" y="894" width="188" height="4" fill="#32648e"/>
<rect x="804" y="894" width="186" height="4" fill="#287d8e"/>
<rect x="990" y="894" width="38" height="4" fill="#21918c"/>
<rect x="1028" y="894" width="757" height="4" fill="#1f9f88"/>
<rect x="616" y="898" width="374" height="2" fill="#414487"/>
<rect x="990" y="898" width="795" height="2" fill="#2a788e"/>
<rect x="458" y="900" width="102" height="5" fill="#481568"/>
<rect x="560" y="900" width="219" height="5" fill="#443a83"/>
<rect x="779" y="900" width="163" height="5" fill="#21918c"/>
<rect x="942" y="900" width="62" height="5" fill="#1e9c89"/>
<rect x="1004" y="900" width="781" height="5" fill="#26ad81"/>
<rect x="649" y="906" width="123" height="5" fill="#38588c"/>
<rect x="772" y="906" width="51" height="5" fill="#21918c"/>
<rect x="823" y="906" width="176" height="5" fill="#1e9c89"/>
<rect x="999" y="906" width="40" height="5" fill="#44bf70"/>
<rect x="1039" y="906" width="746" height="5" fill="#63cb5f"/>
<rect x="649" y="911" width="219" height="3" fill="#482576"/>
<rect x="868" y="911" width="129" height="3" fill="#3b528b"/>
<rect x="997" y="911" width="788" height="3" fill="#2a788e"/>
<rect x="649" y="914" width="222" height="4" fill="#491a6d"/>
<rect x="871" y="914" width="89" height="4" fill="#463480"/>
<rect x="960" y="914" width="825" height="4" fill="#433e85"/>
<rect x="653" y="918" width="21" height="3" fill="#25848e"/>
<rect x="674" y="918" width="59" height="3" fill="#21918c"/>
<rect x="733" y="918" width="487" height="3" fill="#2cb17e"/>
<rect x="1220" y="918" width="565" height="3" fill="#3bbb75"/>
<rect x="239" y="921" width="195" height="5" fill="#472a7a"/>
<rect x="434" y="921" width="76" height="5" fill="#453781"/>
<rect x="510" y="921" width="143" height="5" fill="#414487"/>
<rect x="653" y="921" width="21" height="5" fill="#25848e"/>
<rect x="674" y="921" width="59" height="5" fill="#21918c"/>
<rect x="733" y="921" width="487" height="5" fill="#2cb17e"/>
<rect x="1220" y="921" width="565" height="5" fill="#3bbb75"/>
<rect x="663" y="926" width="251" height="2" fill="#355f8d"/>
<rect x="914" y="926" width="871" height="2" fill="#38588c"/>
<rect x="663" y="928" width="210" height="4" fill="#2c738e"/>
<rect x="873" y="928" width="43" height="4" fill="#2a788e"/>
<rect x="916" y="928" width="869" height="4" fill="#25848e"/>
<rect x="913" y="932" width="872" height="6" fill="#414487"/>
<rect x="244" y="938" width="223" height="6" fill="#463480"/>
<rect x="467" y="938" width="64" height="6" fill="#414487"/>
<rect x="531" y="938" width="84" height="6" fill="#375a8c"/>
<rect x="615" y="938" width="189" height="6" fill="#32648e"/>
<rect x="804" y="938" width="171" height="6" fill="#2a788e"/>
<rect x="975" y="938" width="810" height="6" fill="#27808e"/>
<rect x="232" y="944" width="235" height="4" fill="#443a83"/>
<rect x="467" y="944" width="64" height="4" fill="#3e4989"/>
<rect x="531" y="944" width="84" height="4" fill="#355f8d"/>
<rect x="615" y="944" width="189" height="4" fill="#31678e"/>
<rect x="804" y="944" width="171" height="4" fill="#2a788e"/>
<rect x="975" y="944" width="810" height="4" fill="#27808e"/>
<rect x="455" y="948" width="105" height="5" fill="#491a6d"/>
<rect x="560" y="948" width="120" height="5" fill="#472a7a"/>
<rect x="680" y="948" width="324" height="5" fill="#443a83"/>
<rect x="1004" y="948" width="781" height="5" fill="#27808e"/>
<rect x="225" y="953" width="230" height="7" fill="#491a6d"/>
<rect x="455" y="953" width="105" height="7" fill="#482576"/>
<rect x="560" y="953" width="120" height="7" fill="#472e7c"/>
<rect x="680" y="953" width="143" height="7" fill="#443a83"/>
<rect x="823" y="953" width="187" height="7" fill="#38588c"/>
<rect x="1010" y="953" width="775" height="7" fill="#27808e"/>
<rect x="296" y="960" width="224" height="4" fill="#491a6d"/>
<rect x="520" y="960" width="160" height="4" fill="#482576"/>
<rect x="680" y="960" width="335" height="4" fill="#463480"/>
<rect x="1015" y="960" width="770" height="4" fill="#27808e"/>
<rect x="296" y="964" width="224" height="4" fill="#49176a"/>
<rect x="520" y="964" width="160" height="4" fill="#492375"/>
<rect x="680" y="964" width="100" height="4" fill="#46307e"/>
<rect x="780" y="964" width="276" height="4" fill="#443a83"/>
<rect x="1056" y="964" width="86" height="4" fill="#414487"/>
<rect x="1142" y="964" width="643" height="4" fill="#38588c"/>
<rect x="168" y="968" width="352" height="6" fill="#492072"/>
<rect x="520" y="968" width="160" height="6" fill="#482576"/>
<rect x="680" y="968" width="100" height="6" fill="#46307e"/>
<rect x="780" y="968" width="276" height="6" fill="#443a83"/>
<rect x="1056" y="968" width="86" height="6" fill="#414487"/>
<rect x="1142" y="968" width="643" height="6" fill="#38588c"/>
<rect x="242" y="974" width="135" height="8" fill="#472e7c"/>
<rect x="377" y="974" width="55" height="8" fill="#443a83"/>
<rect x="432" y="974" width="528" height="8" fill="#3e4989"/>
<rect x="960" y="974" width="825" height="8" fill="#414487"/>
<rect x="185" y="982" width="775" height="6" fill="#49176a"/>
<rect x="960" y="982" width="825" height="6" fill="#492072"/>
<rect x="242" y="988" width="1543" height="4" fill="#491a6d"/>
<rect x="232" y="994" width="173" height="6" fill="#463480"/>
<rect x="405" y="994" width="555" height="6" fill="#433e85"/>
<rect x="960" y="994" width="825" height="6" fill="#414487"/>
<rect x="777" y="1001" width="183" height="3" fill="#3a548c"/>
<rect x="960" y="1001" width="825" height="3" fill="#3e4989"/>
<rect x="777" y="1004" width="183" height="6" fill="#3a548c"/>
<rect x="960" y="1004" width="825" height="6" fill="#38588c"/>
<rect x="225" y="1010" width="164" height="3" fill="#49176a"/>
<rect x="389" y="1010" width="252" height="3" fill="#492072"/>
<rect x="641" y="1010" width="399" height="3" fill="#472a7a"/>
<rect x="1040" y="1010" width="745" height="3" fill="#31678e"/>
<rect x="389" y="1013" width="1396" height="3" fill="#49176a"/>
<rect x="170" y="1016" width="1615" height="4" fill="#491a6d"/>
<rect x="170" y="1020" width="483" height="4" fill="#481568"/>
<rect x="653" y="1020" width="75" height="4" fill="#38588c"/>
<rect x="728" y="1020" width="1057" height="4" fill="#306a8e"/>
<rect x="185" y="1024" width="192" height="9" fill="#49176a"/>
<rect x="377" y="1024" width="583" height="9" fill="#482576"/>
<rect x="960" y="1024" width="825" height="9" fill="#46307e"/>
<rect x="960" y="1033" width="825" height="7" fill="#472a7a"/>
<rect x="467" y="1040" width="66" height="6" fill="#492072"/>
<rect x="533" y="1040" width="270" height="6" fill="#443a83"/>
<rect x="803" y="1040" width="157" height="6" fill="#3e4989"/>
<rect x="960" y="1040" width="825" height="6" fill="#38588c"/>
<rect x="960" y="1046" width="69" height="3" fill="#414487"/>
<rect x="1029" y="1046" width="756" height="3" fill="#38588c"/>
<rect x="960" y="1049" width="825" height="5" fill="#433e85"/>
<rect x="825" y="1054" width="172" height="4" fill="#414487"/>
<rect x="997" y="1054" width="788" height="4" fill="#3b528b"/>
<rect x="997" y="1058" width="788" height="3" fill="#3b528b"/>
<rect x="960" y="1061" width="825" height="11" fill="#470e62"/>
<rect x="240" y="1072" width="720" height="6" fill="#49176a"/>
<rect x="960" y="1072" width="825" height="6" fill="#491a6d"/>
<rect x="231" y="1090" width="729" height="8" fill="#491c6f"/>
<rect x="960" y="1090" width="825" height="8" fill="#491a6d"/>
<rect x="376" y="1113" width="1409" height="9" fill="#470e62"/>
<rect x="166" y="1122" width="210" height="9" fill="#470e62"/>
<rect x="376" y="1122" width="1409" height="9" fill="#481568"/>
<rect x="1583" y="1144" width="202" height="4" fill="#491c6f"/>
<rect x="1583" y="1151" width="202" height="6" fill="#46307e"/>
<rect x="1580" y="1164" width="205" height="4" fill="#491a6d"/>
</g></g>
<path d="M140.4 815.2V821.4M150.2 813.9V823.4M160 815.9V825.1M169.8 816.2V824.6M179.6 815.9V827.5M189.4 823.8V834.1M194.3 818.4V827.9M199.2 809.5V823.2M209 804.6V817.6M218.8 802V812.1M228.6 802.6V811.2M233.5 799.8V804.9M238.4 772V800.4M253.1 785.4V797.9M267.7 802.2V804.4M277.5 809.1V815.3M292.2 814.9V825.6M302 813.8V821.7M306.9 808.5V818.1M316.7 809V824.4M321.6 810.3V815.3M331.4 805V817.2M341.2 814.2V817.9M351 818.2V828.1M360.8 820V828M375.4 823.5V835.4M380.3 819.5V826M385.2 820.4V825.2M390.1 808.7V822M399.9 792.9V815.4M404.8 795V798M409.7 793.9V797.9M414.6 767V795.4M434.2 769.2V784.6M444 763.9V775.7M453.8 755.1V769.4M458.7 749V756.8M468.5 751.9V754.4M473.4 733.2V752.4M483.2 730.5V739.4M488.1 727.9V733.1M497.8 735.3V742.7M507.6 727.6V740.7M512.5 709.4V730.9M537 736.3V744.9M546.8 738V749.5M551.7 738.2V742.3M556.6 721V741.1M561.5 691V724M571.3 705.4V708.2M605.6 739.1V744.2M615.3 738.8V750.7M620.2 731.6V739.5M625.1 665V736.3M630 678.3V692.6M644.7 697.2V704.9M659.4 711.7V728.7M669.2 716V720.4M674.1 710.2V719.1M679 709.7V713M683.9 696.4V712M688.8 680.2V701.5M703.5 696.2V701.7M718.2 706.3V715.2M727.9 707.5V718.2M747.5 702.6V722.7M757.3 712.7V717.9M767.1 709.8V722.7M776.9 694.7V714M786.7 685.9V699.5M830.8 750.5V763.7M840.6 749.2V759.1M845.4 739.2V755.2M874.8 770V779.4M889.5 769V776.1M899.3 767.5V776.5M904.2 755V771.8M909.1 754.4V759.7M914 733.6V759.4M918.9 732V738.9M923.8 719.2V734.2M948.3 754.4V757.8M958.1 756.4V761.9M967.8 757.7V769.1M972.7 743.2V761M1002.1 754.2V775.7M1011.9 746.9V759.4M1021.7 757.3V761.4M1031.5 743.9V764.3M1036.4 736.4V749M1041.3 711.8V739.8M1046.2 670V714.1M1051.1 640V672.3M1060.9 653V660.3M1070.7 647.5V660.2M1075.6 648.2V653.3M1080.4 643.2V652.4M1090.2 642.9V652M1100 632V654M1109.8 642.9V652.2M1119.6 643.8V653.3M1129.4 651.8V656.2M1144.1 642.8V657.9M1149 628V647.3M1153.9 633V641.5M1168.6 651V656.2M1178.4 652.7V662.2M1188.2 640.3V658.4M1197.9 637.3V646.8M1202.8 635.2V639.4M1207.7 617.2V638.4M1217.5 610.3V624.3M1227.3 600V614.7M1242 624.4V634.2M1246.9 610.9V627.3M1256.7 606.4V624.3M1261.6 602.9V608M1271.4 606.8V619.3M1276.3 604.2V608.5M1281.2 593.6V607.8M1291 598.7V608.4M1300.8 590V606.4M1315.4 601.3V613.9M1325.2 600.7V610.6M1344.8 604.6V628.1M1349.7 579.1V605.7M1354.6 543.1V583.2M1359.5 539.5V546.9M1364.4 540.7V542.9M1374.2 527.4V543.7M1379.1 516.7V531.3M1384 477.5V520.7M1418.3 539.3V550.6M1452.5 558.6V578.8M1457.4 556.8V564.5M1462.3 548.5V559.1M1472.1 551V562.4M1481.9 556V565.1M1486.8 555.1V560.7M1491.7 549.8V557.2M1506.4 546.1V557.4M1511.3 522V549M1521.1 530.2V535.8M1530.9 535.8V545.5M1540.7 536.6V543.6M1560.2 554.8V567.2M1570 543.7V565.5M1574.9 542.5V549.1M1579.8 530.3V543.7M1584.7 484V533M1609.2 531.6V549.3M1619 531.1V539.6M1633.7 536.9V554.2M1638.6 534.3V539.5M1643.5 527V537.3M1653.3 527.5V536.6M1663.1 533.5V543.1M1697.3 557.8V565.3M1712 561V565.7M1716.9 556.3V563.5M1726.7 557.8V563.3M1731.6 556.5V561.5M1736.5 552.3V558.2M1751.2 576.5V587.2M1761 577.2V588.6M1770.8 589.8V594.8M1780.6 587.1V601" stroke="#24c78f" stroke-width="1" fill="none"/>
<path d="M145.3 815.3V823.5M155.1 813.7V823.3M164.9 816.4V827.2M174.7 818V826.3M184.5 815.4V833M204.1 810.7V816.5M213.9 804.6V814.2M223.7 802.7V810.5M243.3 776.9V782.8M248.2 780.6V795.6M257.9 784.2V799.7M262.8 794.5V806.6M272.6 802.8V817.3M282.4 808.9V823.4M287.3 819.3V826.5M297.1 813.1V822.7M311.8 809.4V826.7M326.5 808.8V817.9M336.3 805.1V819.5M346.1 815.6V829.3M355.9 819.5V826.8M365.7 819.9V825.2M370.6 822.3V833.7M395 809.2V814.4M419.5 768.6V772.4M424.4 769.3V776.6M429.3 773.4V783.2M439.1 768.5V775.4M448.9 765.7V771.7M463.6 750.3V756.3M478.3 734.1V740.1M492.9 728.4V741.7M502.7 734.5V741.9M517.4 711.9V727.6M522.3 722.8V729.7M527.2 728.3V746.2M532.1 741.9V745.1M541.9 736.3V747.9M566.4 698.3V709M576.2 704.9V719.4M581.1 714.4V720.1M586 718V732.1M590.9 729.4V736.7M595.8 731.9V741.7M600.7 737.6V744.8M610.4 739.2V748.7M634.9 677.9V690.3M639.8 688.2V702.7M649.6 695.2V712.6M654.5 710.3V727.5M664.3 710.3V720.2M693.7 681V694.2M698.6 690.5V701.7M708.4 695.6V711.4M713.3 709.4V715.5M723.1 706.3V720.3M732.8 707.9V714.8M737.7 710.6V724M742.6 714.3V721.8M752.4 704.8V718.6M762.2 712.9V722.3M772 709.9V713.1M781.8 695.6V699.7M791.6 685.8V702.8M796.5 697.5V708.1M801.4 705.3V727.8M806.3 726V733.6M811.2 729.3V740.4M816.1 737.9V755.6M821 752.6V755.6M825.9 753.5V762.6M835.7 751.2V761.4M850.3 738.9V742.4M855.2 741.2V750.4M860.1 749V750.7M865 749.3V764.6M869.9 760.5V781M879.7 770.8V775.2M884.6 773.1V777.8M894.4 768.3V774.5M928.7 720.9V729.7M933.6 725.1V735.6M938.5 731.9V751.5M943.4 746.3V756.9M953.2 754.3V762.6M962.9 756.6V767.9M977.6 744V752.8M982.5 748.5V752.3M987.4 748.5V763.3M992.3 761.3V781M997.2 765.2V777.4M1007 754.6V759.8M1016.8 749.5V759.4M1026.6 756.2V764.1M1056 644.9V660.3M1065.8 654.1V662.6M1085.3 644.5V654.5M1095.1 641.3V654.2M1104.9 640.1V649.7M1114.7 642.9V653.9M1124.5 643.4V656.8M1134.3 651.6V672M1139.2 654.7V657.9M1158.8 633.6V642.4M1163.7 640.1V657.4M1173.5 652.4V662.1M1183.3 653V659.4M1193.1 641.1V644.9M1212.6 616.8V626.1M1222.4 612V614.6M1232.2 603.9V614.2M1237.1 610.2V633.1M1251.8 608.9V622.4M1266.5 603.5V621.3M1286.1 595.5V607.8M1295.9 597.1V605M1305.7 594.2V599.6M1310.6 595.1V615.8M1320.3 600.1V611M1330.1 599.3V608.4M1335 604.2V643M1339.9 611.4V643M1369.3 539.1V545.4M1388.9 491.8V506.5M1393.8 502.2V513.6M1398.7 508.5V527.5M1403.6 525.7V535.7M1408.5 532.6V548.5M1413.4 544.5V553M1423.2 541.6V554.4M1428.1 550.9V551.9M1432.9 548.6V562.4M1437.8 558.5V568.9M1442.7 566.3V580.3M1447.6 577V579.2M1467.2 549.3V562.1M1477 553V565.1M1496.6 548.4V552.7M1501.5 548.8V555.3M1516.2 525.6V537.6M1526 530.6V544.5M1535.8 535.4V544.9M1545.6 536.1V543.6M1550.4 541.7V556.5M1555.3 551.8V574M1565.1 557V577M1589.6 502.6V512.5M1594.5 510.4V560M1599.4 537.6V542.6M1604.3 538.9V548.8M1614.1 530.9V537.3M1623.9 531.1V557M1628.8 542.6V551.6M1648.4 525.4V537.1M1658.2 528.5V544M1667.9 532.6V539.9M1672.8 538.6V546.7M1677.7 544V549.8M1682.6 547.8V555.7M1687.5 554.4V565M1692.4 562.1V564.2M1702.2 559.2V562.3M1707.1 557.6V566.3M1721.8 556.1V564.3M1741.4 552.7V571.7M1746.3 566.2V588.7M1756.1 574.3V588.1M1765.9 578V604M1775.7 591.7V600.6" stroke="#f74f68" stroke-width="1" fill="none"/>
<path d="M140.4 815.7V819.7M150.2 815.6V820.4M160 817.3V822.6M169.8 818.2V824.2M179.6 817V825M189.4 826.8V831.2M194.3 820.6V826.8M199.2 812.3V820.6M209 805.5V815.8M218.8 805V811.2M228.6 803.7V809.5M233.5 800.1V803.7M238.4 779.1V800.1M253.1 786.4V794.9M267.7 803.1V804.3M277.5 810.4V814.8M292.2 815.6V824.4M302 816.2V819.9M306.9 810.2V816.2M316.7 812.1V823.9M321.6 811.4V812.6M331.4 805.9V815.8M341.2 816.7V817.9M351 821.2V826.2M360.8 820.8V825.6M375.4 825.7V833M380.3 822.6V825.7M385.2 821.1V822.6M390.1 810V821.1M399.9 796V812.3M404.8 795.7V796.9M409.7 794.3V795.7M414.6 769.9V794.3M434.2 771.6V782.5M444 766.9V773.9M453.8 755.9V768.8M458.7 752.7V755.9M468.5 752.2V754.1M473.4 735.4V752.2M483.2 731.8V738.9M488.1 729.1V731.8M497.8 735.5V740.8M507.6 728.8V739.9M512.5 712.4V728.8M537 739V744.2M546.8 739.5V747.4M551.7 738.5V739.7M556.6 722.6V738.5M561.5 701.2V722.6M571.3 706.2V708M605.6 739.5V741.8M615.3 739.2V747.8M620.2 734.5V739.2M625.1 691.2V734.5M630 680.8V691.2M644.7 698.2V702.4M659.4 712.7V725.7M669.2 717.1V719.6M674.1 711.3V717.1M679 709.9V711.3M683.9 698.9V709.9M688.8 683.1V698.9M703.5 696.5V700.6M718.2 709.4V712.6M727.9 708.8V718M747.5 705.5V720.2M757.3 715.3V717M767.1 712.4V721.8M776.9 696.7V712.8M786.7 687.1V697.2M830.8 752.4V761.6M840.6 752.4V758.3M845.4 742.1V752.4M874.8 772.4V776.9M889.5 770.4V774.9M899.3 769.7V773.6M904.2 757.5V769.7M909.1 757.2V758.4M914 735.8V757.2M918.9 732.5V735.8M923.8 721.9V732.5M948.3 755.2V756.4M958.1 757.3V760.7M967.8 760.6V767.1M972.7 745.1V760.6M1002.1 756.8V774.4M1011.9 750V759.2M1021.7 758.9V760.1M1031.5 746.6V762M1036.4 739.4V746.6M1041.3 712.1V739.4M1046.2 671V712.1M1051.1 645.7V671M1060.9 656.1V657.7M1070.7 650.5V659.8M1075.6 649.5V650.7M1080.4 646V649.5M1090.2 643.9V651.5M1100 640.6V653.4M1109.8 644.9V649.4M1119.6 644.7V651.2M1129.4 652.4V654.1M1144.1 644.8V657.4M1149 640.7V644.8M1153.9 633.8V640.7M1168.6 653.2V655.9M1178.4 653.8V661.1M1188.2 642.9V657.1M1197.9 637.7V643.7M1202.8 635.7V637.7M1207.7 618.6V635.7M1217.5 612.5V624M1227.3 606.2V613.2M1242 625.5V631.9M1246.9 612V625.5M1256.7 607.5V621.5M1261.6 604.8V607.5M1271.4 608.3V618.6M1276.3 607V608.3M1281.2 596.8V607M1291 599.5V605.3M1300.8 594.4V604.8M1315.4 602.8V613.2M1325.2 602.1V609.3M1344.8 604.8V627M1349.7 580.9V604.8M1354.6 545.2V580.9M1359.5 542.4V545.2M1364.4 541.1V542.4M1374.2 528.8V543.3M1379.1 518.4V528.8M1384 492.8V518.4M1418.3 542.4V550.1M1452.5 561.6V577.5M1457.4 558.2V561.6M1462.3 551.4V558.2M1472.1 553.7V560.6M1481.9 558.6V562.7M1486.8 556V558.6M1491.7 551.2V556M1506.4 546.8V554.6M1511.3 527V546.8M1521.1 532V535.1M1530.9 536.4V543M1540.7 539V543M1560.2 557.3V566.4M1570 546.4V563.2M1574.9 543.1V546.4M1579.8 532.3V543.1M1584.7 504.7V532.3M1609.2 533.1V548.1M1619 532.6V536.5M1633.7 539V551.1M1638.6 536V539M1643.5 527.9V536M1653.3 530.1V534M1663.1 534.2V541.6M1697.3 559.5V563.9M1712 561.4V564M1716.9 558.7V561.4M1726.7 559.5V562.7M1731.6 556.8V559.5M1736.5 554V556.8M1751.2 577.1V585.7M1761 580.4V586.2M1770.8 592.4V594M1780.6 590.2V598.2" stroke="#24c78f" stroke-width="2.7" fill="none"/>
<path d="M145.3 815.7V820.4M155.1 815.6V822.6M164.9 817.3V824.2M174.7 818.2V825M184.5 817V831.2M204.1 812.3V815.8M213.9 805.5V811.2M223.7 805V809.5M243.3 779.1V782.1M248.2 782.1V794.9M257.9 786.4V797.5M262.8 797.5V803.7M272.6 803.1V814.8M282.4 810.4V821.6M287.3 821.6V824.4M297.1 815.6V819.9M311.8 810.2V823.9M326.5 811.4V815.8M336.3 805.9V816.9M346.1 816.7V826.2M355.9 821.2V825.6M365.7 820.8V823.7M370.6 823.7V833M395 810V812.3M419.5 769.9V772.2M424.4 772.2V776.3M429.3 776.3V782.5M439.1 771.6V773.9M448.9 766.9V768.8M463.6 752.7V754.1M478.3 735.4V738.9M492.9 729.1V740.8M502.7 735.5V739.9M517.4 712.4V725.9M522.3 725.9V729.1M527.2 729.1V743.2M532.1 743.2V744.4M541.9 739V747.4M566.4 701.2V708M576.2 706.2V717.3M581.1 717.3V718.5M586 718.3V730.8M590.9 730.8V734.5M595.8 734.5V740.1M600.7 740.1V741.8M610.4 739.5V747.8M634.9 680.8V689.4M639.8 689.4V702.4M649.6 698.2V712.4M654.5 712.4V725.7M664.3 712.7V719.6M693.7 683.1V693.5M698.6 693.5V700.6M708.4 696.5V711.1M713.3 711.1V712.6M723.1 709.4V718M732.8 708.8V712.1M737.7 712.1V716M742.6 716V720.2M752.4 705.5V717M762.2 715.3V721.8M772 712.4V713.6M781.8 696.7V697.9M791.6 687.1V700.1M796.5 700.1V705.7M801.4 705.7V726.8M806.3 726.8V731.7M811.2 731.7V738.9M816.1 738.9V753M821 753V754.2M825.9 753.8V761.6M835.7 752.4V758.3M850.3 742.1V743.3M855.2 742.2V749.4M860.1 749.4V750.6M865 749.8V762.2M869.9 762.2V776.9M879.7 772.4V774M884.6 774V775.2M894.4 770.4V773.6M928.7 721.9V727M933.6 727V733.3M938.5 733.3V748.7M943.4 748.7V755.4M953.2 755.2V760.7M962.9 757.3V767.1M977.6 745.1V749.9M982.5 749.9V751.7M987.4 751.7V763M992.3 763V766.1M997.2 766.1V774.4M1007 756.8V759.2M1016.8 750V759.1M1026.6 758.9V762M1056 645.7V657.7M1065.8 656.1V659.8M1085.3 646V651.5M1095.1 643.9V653.4M1104.9 640.6V649.4M1114.7 644.9V651.2M1124.5 644.7V654.1M1134.3 652.4V655.6M1139.2 655.6V657.4M1158.8 633.8V641.3M1163.7 641.3V655.9M1173.5 653.2V661.1M1183.3 653.8V657.1M1193.1 642.9V644.1M1212.6 618.6V624M1222.4 612.5V613.7M1232.2 606.2V611.7M1237.1 611.7V631.9M1251.8 612V621.5M1266.5 604.8V618.6M1286.1 596.8V605.3M1295.9 599.5V604.8M1305.7 594.4V598M1310.6 598V613.2M1320.3 602.8V609.3M1330.1 602.1V605.7M1335 605.7V612.1M1339.9 612.1V627M1369.3 541.1V543.3M1388.9 492.8V503.9M1393.8 503.9V511.5M1398.7 511.5V526.2M1403.6 526.2V534.3M1408.5 534.3V547.1M1413.4 547.1V550.1M1423.2 542.4V551.5M1428.1 551.5V552.7M1432.9 551.6V561.6M1437.8 561.6V567.9M1442.7 567.9V577.4M1447.6 577.4V578.6M1467.2 551.4V560.6M1477 553.7V562.7M1496.6 551.2V552.4M1501.5 551.5V554.6M1516.2 527V535.1M1526 532V543M1535.8 536.4V543M1545.6 539V542M1550.4 542V553.7M1555.3 553.7V566.4M1565.1 557.3V563.2M1589.6 504.7V511.5M1594.5 511.5V539M1599.4 539V540.8M1604.3 540.8V548.1M1614.1 533.1V536.5M1623.9 532.6V542.9M1628.8 542.9V551.1M1648.4 527.9V534M1658.2 530.1V541.6M1667.9 534.2V539.1M1672.8 539.1V544.6M1677.7 544.6V549.3M1682.6 549.3V554.9M1687.5 554.9V563.6M1692.4 563.6V564.8M1702.2 559.5V560.7M1707.1 559.7V564M1721.8 558.7V562.7M1741.4 554V569.3M1746.3 569.3V585.7M1756.1 577.1V586.2M1765.9 580.4V594M1775.7 592.4V598.2" stroke="#f74f68" stroke-width="2.7" fill="none"/>
<g fill="#ffffff" opacity="0.42">
<rect x="1593.4" y="1082" width="30.4" height="25.4" rx="12" ry="11"/>
<ellipse cx="1593.2" cy="1090.6" rx="5.6" ry="3.7"/><ellipse cx="1624.3" cy="1090.6" rx="5.6" ry="3.7"/>
<path d="M1597.8 1086 L1599.3 1079.6 L1603.4 1083.6 Z M1619.4 1086 L1617.9 1079.6 L1613.8 1083.6 Z"/>
<rect x="1596.6" y="1103" width="25.6" height="17.5" rx="8" ry="7"/>
<rect x="1599.3" y="1112" width="9.4" height="14.4" rx="3.6"/><rect x="1609.9" y="1112" width="9.4" height="14.4" rx="3.6"/>
<path d="M1599 1119.5 L1592.6 1125 L1594 1126 L1601 1122.5 Z"/>
<text x="1638.5" y="1113.2" font-family="Liberation Sans, sans-serif" font-weight="700" font-size="28.5" textLength="130" lengthAdjust="spacingAndGlyphs">coinglass</text>
</g>
<!-- axes -->
<g class="ax"><text x="141.0" y="1200" text-anchor="middle">27, 16:30</text><text x="258.5" y="1200" text-anchor="middle">28, 04:30</text><text x="376.0" y="1200" text-anchor="middle">28, 16:30</text><text x="493.5" y="1200" text-anchor="middle">29, 04:30</text><text x="611.0" y="1200" text-anchor="middle">29, 16:30</text><text x="728.5" y="1200" text-anchor="middle">30, 04:30</text><text x="846.0" y="1200" text-anchor="middle">30, 16:30</text><text x="963.5" y="1200" text-anchor="middle">01, 04:30</text><text x="1081.0" y="1200" text-anchor="middle">01, 16:30</text><text x="1198.5" y="1200" text-anchor="middle">02, 04:30</text><text x="1316.0" y="1200" text-anchor="middle">02, 16:30</text><text x="1433.5" y="1200" text-anchor="middle">03, 04:30</text><text x="1551.0" y="1200" text-anchor="middle">03, 16:30</text><text x="1668.5" y="1200" text-anchor="middle">04, 04:30</text><text x="1799" y="112">3.4505</text><text x="1799" y="166">3.4</text><text x="1799" y="379.3">3.2</text><text x="1799" y="593">3</text><text x="1799" y="806.5">2.8</text><text x="1799" y="1020.5">2.6</text><text x="1799" y="1174.5">2.45583</text></g>
<g class="ax" clip-path="url(#pclip)"><text x="1921" y="86.8" text-anchor="middle">0</text><text x="2026.4" y="86.8" text-anchor="middle">20.000M</text><text x="2131" y="86.8" text-anchor="middle">40.000M</text><text x="2236.7" y="86.8" text-anchor="middle">60.000M</text><text x="1921" y="1200" text-anchor="middle">0</text><text x="2026.4" y="1200" text-anchor="middle">500.000K</text><text x="2131" y="1200" text-anchor="middle">1.000M</text><text x="2236.7" y="1200" text-anchor="middle">1.500M</text></g>
<!-- right panel -->
<path d="M2088 108.5 L2088 134 L2086.3 151 L2084 168 L2083.2 185 L2082.4 202 L2081.5 210 L2079 215.5 L2075.6 222 L2072 229 L2070.5 236 L2069.3 244 L2068.8 261 L2068 270 L2066.2 278 L2063.7 286.5 L2060.3 295 L2059.5 298.5 L2058.6 303.6 L2058.6 308.7 L2056.9 312.9 L2053.5 317.1 L2048.4 322.2 L2043.3 326.5 L2036.6 330.7 L2028.9 337.5 L2023 344.3 L2021.3 349.4 L2017 354.5 L2013.7 358.7 L2013.3 368 L2011.1 371.4 L2003.5 376.5 L1995 383.3 L1981.4 390.1 L1968.7 396.9 L1967 401.1 L1961.9 408.7 L1955.1 415.5 L1953.9 422.3 L1951.7 429.1 L1949.2 435.9 L1941.6 442.7 L1933.9 451.2 L1927.1 459.6 L1923.7 466.4 L1921.2 473.2 L1920.7 476.6 L1920.7 589.5 L1921 589.5 L1921 108.5 Z" fill="#d3e9e4"/>
<path d="M1920.7 593.7 L1920.7 649.7 L1922.9 654.8 L1925.4 661.6 L1926.8 671.8 L1929.2 676.9 L1929.7 692.1 L1933.9 694.7 L1945.8 700.6 L1957.7 707.4 L1967.9 714.2 L1972.9 719.3 L1977.2 722.7 L1978.9 728.6 L1983.1 730.3 L1984 732.8 L1984.8 743 L1988.2 746.4 L1998.4 753.2 L2008.6 760 L2017 765.1 L2023 770.2 L2030.6 777 L2037.4 785.4 L2039.1 793.9 L2044.2 800.7 L2051 807.5 L2058.6 814.3 L2062.8 821.1 L2067.1 827.9 L2070.5 836.3 L2073.9 844.8 L2079 851.6 L2086.6 858.4 L2095.1 865.2 L2104.4 870.3 L2110.3 878.7 L2112.9 887.2 L2120.5 895.7 L2129 904.2 L2134.9 912.7 L2140.9 921.2 L2144.3 929.6 L2148.5 938.1 L2153.6 946.6 L2154.4 950 L2157.8 955.2 L2161.6 960.3 L2163.9 967.2 L2166.1 975.8 L2166.8 984.4 L2167.8 993 L2169.5 1001.6 L2171.6 1010.2 L2173.3 1018.8 L2174.7 1027.4 L2175.9 1035.9 L2177.6 1044.5 L2179.3 1053.1 L2180.5 1061.7 L2181 1070.3 L2181.6 1087.5 L2182.1 1104.7 L2182.4 1121.9 L2182.9 1139.1 L2183.5 1156.3 L2183.6 1166.2 L1921 1166.2 L1921 594 Z" fill="#fbd5d9"/>
<path d="M2026.4 108V1166" stroke="#1a0a1a" stroke-opacity="0.055" stroke-width="1.2" stroke-dasharray="6 5" fill="none"/>
<path d="M2131 108V1166" stroke="#1a0a1a" stroke-opacity="0.055" stroke-width="1.2" stroke-dasharray="6 5" fill="none"/>
<path d="M2236.7 108V1166" stroke="#1a0a1a" stroke-opacity="0.055" stroke-width="1.2" stroke-dasharray="6 5" fill="none"/>
<path d="M1921 107.1h8M1921 114.2h6M1921 121.2h5.4M1921 128.3h6.8M1921 131.8h11M1921 135.3h17M1921 138.9h17.5M1921 142.4h9.3M1921 145.9h2.5M1921 149.5h11M1921 156.5h11.4M1921 160h35.3M1921 167.1h32.7M1921 170.6h3.4M1921 174.2h18.3M1921 177.7h3M1921 188.3h25.8M1921 195.3h1.4M1921 198.9h5M1921 202.4h11M1921 205.9h20M1921 209.5h45M1921 213h83.5M1921 216.5h55.6M1921 220.1h64.8M1921 223.6h80M1921 227.1h56M1921 230.6h24.6M1921 234.2h47.5M1921 241.2h10.5M1921 244.8h2.9M1921 248.3h26.8M1921 265.9h61M1921 273h29.2M1921 276.5h56.8M1921 280.1h46.6M1921 283.6h27.6M1921 287.1h41.2M1921 290.7h29.3M1921 294.2h71.8M1921 297.7h42.6M1921 304.8h28.5M1921 308.3h38.5M1921 311.8h140.8M1921 315.4h134.9M1921 318.9h166M1921 322.4h160.8M1921 326h224M1921 329.5h126.4M1921 333h151.8M1921 336.5h131.5M1921 340.1h130.3M1921 347.1h151.8M1921 350.7h52.6M1921 354.2h151.8M1921 364.8h36.5M1921 368.3h212.6M1921 371.9h203.6M1921 375.4h198.5M1921 378.9h235M1921 382.4h217.6M1921 386h217.6M1921 389.5h235M1921 393h270.6M1921 396.6h37.3M1921 400.1h136.9M1921 403.6h75.5M1921 407.1h130.6M1921 410.7h139.6M1921 417.7h59M1921 421.3h17.3M1921 424.8h54.3M1921 428.3h21.2M1921 431.9h157.4M1921 435.4h127.7M1921 438.9h158.3M1921 442.4h103M1921 446h129.8M1921 449.5h92.5M1921 453h109.4M1921 456.6h97.2M1921 460.1h6M1921 463.6h137.9M1921 470.7h65.6M1921 474.2h8" stroke="#33af98" stroke-width="1.5" fill="none"/>
<path d="M1921 654.2h70.4M1921 661.3h65.6M1921 664.8h57.2M1921 675.4h87.7M1921 679h51.7M1921 693.1h36M1921 696.6h294.3M1921 700.1h221.9M1921 703.7h188.3M1921 707.2h298.9M1921 710.7h208.7M1921 714.3h200.2M1921 717.8h226M1921 721.3h61.4M1921 724.9h179M1921 731.9h255.3M1921 742.5h17.5M1921 746h67M1921 749.6h166.6M1921 753.1h206.6M1921 756.6h217.6M1921 760.1h218M1921 763.7h271M1921 767.2h189M1921 770.7h123.8M1921 774.3h201M1921 777.8h134M1921 781.3h125.5M1921 784.9h131M1921 788.4h95M1921 795.4h47.5M1921 799h84.8M1921 802.5h169M1921 806h120.4M1921 809.6h92.5M1921 813.1h150.6M1921 816.6h149.3M1921 820.2h171.8M1921 827.2h165.4M1921 830.8h28.5M1921 834.3h93.8M1921 841.3h68.7M1921 848.4h114M1921 851.9h70.4M1921 855.5h263.8M1921 859h145.9M1921 862.5h108M1921 866h196.8M1921 869.6h313.5M1921 873.1h161M1921 876.6h87.7M1921 880.2h89.4M1921 883.7h38.2M1921 887.2h10.5M1921 890.8h90.4M1921 894.3h112.5M1921 897.8h112.8M1921 901.4h149.8M1921 904.9h122.6M1921 908.4h196M1921 911.9h88.2M1921 915.5h30.5M1921 919h96.7M1921 922.5h176.4M1921 926.1h38.5M1921 929.6h77.2M1921 933.1h48.7M1921 936.6h9.8M1921 940.2h78.5M1921 943.7h95.8M1921 947.2h95.8M1921 950.8h89.9M1921 954.3h89.7M1921 957.8h99.7M1921 961.4h81.5M1921 964.9h27.3M1921 968.4h39.5M1921 971.9h29.2M1921 975.5h34.7M1921 979h33.5M1921 982.5h13.2M1921 989.6h13.2M1921 993.1h9.3M1921 996.7h16.3M1921 1000.2h23.5M1921 1003.7h41.3M1921 1007.2h37.6M1921 1010.8h57.6M1921 1014.3h2.4M1921 1017.8h16.7M1921 1021.4h60.5M1921 1024.9h21.5M1921 1028.4h16.7M1921 1032h13.8M1921 1035.5h10.7M1921 1039h2.9M1921 1042.5h34.7M1921 1046.1h42.5M1921 1049.6h35.6M1921 1053.1h18.4M1921 1056.7h32.1M1921 1060.2h31.8M1921 1063.7h4.6M1921 1074.3h11.9M1921 1077.8h11.9M1921 1092h9.3M1921 1095.5h11.5M1921 1099h3.8M1921 1106.1h1.2M1921 1109.6h5.5M1921 1113.1h1.5M1921 1116.7h2.6M1921 1120.2h3.4M1921 1123.7h3.4M1921 1127.3h7.6M1921 1144.9h17.5M1921 1152h15.8M1921 1155.5h14M1921 1166.1h12.7" stroke="#ef5d69" stroke-width="1.5" fill="none"/>
<path d="M2088 108.5 L2088 134 L2086.3 151 L2084 168 L2083.2 185 L2082.4 202 L2081.5 210 L2079 215.5 L2075.6 222 L2072 229 L2070.5 236 L2069.3 244 L2068.8 261 L2068 270 L2066.2 278 L2063.7 286.5 L2060.3 295 L2059.5 298.5 L2058.6 303.6 L2058.6 308.7 L2056.9 312.9 L2053.5 317.1 L2048.4 322.2 L2043.3 326.5 L2036.6 330.7 L2028.9 337.5 L2023 344.3 L2021.3 349.4 L2017 354.5 L2013.7 358.7 L2013.3 368 L2011.1 371.4 L2003.5 376.5 L1995 383.3 L1981.4 390.1 L1968.7 396.9 L1967 401.1 L1961.9 408.7 L1955.1 415.5 L1953.9 422.3 L1951.7 429.1 L1949.2 435.9 L1941.6 442.7 L1933.9 451.2 L1927.1 459.6 L1923.7 466.4 L1921.2 473.2 L1920.7 476.6 L1920.7 589.5" stroke="#2fae96" stroke-width="1.8" fill="none" stroke-linejoin="round"/>
<path d="M1920.7 593.7 L1920.7 649.7 L1922.9 654.8 L1925.4 661.6 L1926.8 671.8 L1929.2 676.9 L1929.7 692.1 L1933.9 694.7 L1945.8 700.6 L1957.7 707.4 L1967.9 714.2 L1972.9 719.3 L1977.2 722.7 L1978.9 728.6 L1983.1 730.3 L1984 732.8 L1984.8 743 L1988.2 746.4 L1998.4 753.2 L2008.6 760 L2017 765.1 L2023 770.2 L2030.6 777 L2037.4 785.4 L2039.1 793.9 L2044.2 800.7 L2051 807.5 L2058.6 814.3 L2062.8 821.1 L2067.1 827.9 L2070.5 836.3 L2073.9 844.8 L2079 851.6 L2086.6 858.4 L2095.1 865.2 L2104.4 870.3 L2110.3 878.7 L2112.9 887.2 L2120.5 895.7 L2129 904.2 L2134.9 912.7 L2140.9 921.2 L2144.3 929.6 L2148.5 938.1 L2153.6 946.6 L2154.4 950 L2157.8 955.2 L2161.6 960.3 L2163.9 967.2 L2166.1 975.8 L2166.8 984.4 L2167.8 993 L2169.5 1001.6 L2171.6 1010.2 L2173.3 1018.8 L2174.7 1027.4 L2175.9 1035.9 L2177.6 1044.5 L2179.3 1053.1 L2180.5 1061.7 L2181 1070.3 L2181.6 1087.5 L2182.1 1104.7 L2182.4 1121.9 L2182.9 1139.1 L2183.5 1156.3 L2183.6 1166.2" stroke="#e8404f" stroke-width="1.6" fill="none" stroke-linejoin="round"/>
<!-- slider handles -->
<g>
<rect x="132" y="1228" width="26" height="31" rx="8" ry="8" fill="#2b2f3f"/><path d="M142.300 1238.500v10.500M148 1238.500v10.500" stroke="#cfd3e0" stroke-width="1.6"/>
<rect x="1774" y="1228" width="26" height="31" rx="8" ry="8" fill="#2b2f3f"/><path d="M1784.300 1238.500v10.500M1790 1238.500v10.500" stroke="#cfd3e0" stroke-width="1.6"/>
</g>
<!-- checkbox + title -->
<rect x="2012" y="-3" width="36" height="37" rx="6" ry="6" fill="#1b6fd1"/>
<path d="M2018.300 19 L2024.800 25 L2042.600 7.900" fill="none" stroke="#fff" stroke-width="2.9" stroke-linecap="round" stroke-linejoin="round"/>
<text x="2066.500" y="26.300" font-size="27.500" fill="#1d1d22" textLength="205" lengthAdjust="spacingAndGlyphs">Liquidation Map</text>
<!-- bottom strip -->
<rect x="0" y="1324" width="2358" height="14" fill="#cdd3e1"/>
</svg>
</body>
</html>
